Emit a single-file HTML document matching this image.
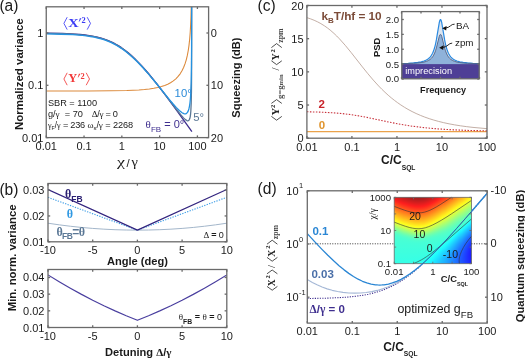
<!DOCTYPE html>
<html><head><meta charset="utf-8"><style>
html,body{margin:0;padding:0;background:#fff;overflow:hidden;}
svg{display:block;}
</style></head><body>
<div style="position:absolute;left:0;top:0;width:525px;height:358px;will-change:transform"><svg width="525" height="358" viewBox="0 0 525 358">
<rect width="525" height="358" fill="#fff"/>
<text x="-0.6" y="11" font-size="15.6" text-anchor="start" font-weight="normal" fill="#1a1a1a" font-family='"Liberation Sans",sans-serif' >(a)</text>
<clipPath id="ca"><rect x="46.25" y="6.8" width="162.35" height="130.79999999999998"/></clipPath>
<g clip-path="url(#ca)">
<path d="M46.25 91L87.86 90.95L110.61 90.81L126.8 90.49L138.88 89.93L144.41 89.49L149.36 88.94L153.77 88.28L157.75 87.49L161.38 86.55L164.73 85.44L167.74 84.19L170.5 82.74L173.31 80.9L175.84 78.81L178.11 76.44L180.15 73.79L181.99 70.79L183.59 67.51L185 63.91L186.26 59.82L187.33 55.4L188.25 50.49L189.03 45.09L189.66 39.29L190.19 32.67L190.63 25.12L190.97 16.62L191.23 6.8" fill="none" stroke="#dc8a3c" stroke-width="1.1" stroke-linejoin="round" />
<path d="M46.25 33.18L62.54 33.51L74.7 34.07L80.05 34.49L84.91 35L89.29 35.59L93.42 36.31L97.31 37.15L101.2 38.17L104.85 39.33L108.26 40.61L111.66 42.1L114.82 43.69L118.23 45.63L121.39 47.66L124.55 49.92L127.95 52.6L131.11 55.31L134.52 58.46L137.92 61.84L141.33 65.44L144.97 69.49L148.86 74.03L156.89 83.94L166.37 96.35L177.56 111.58L191.9 131.6" fill="none" stroke="#3f2f8f" stroke-width="1.3" stroke-linejoin="round" />
<path d="M46.25 33.4L61.77 33.7L73.6 34.22L83.35 35.04L87.62 35.57L91.64 36.2L95.52 36.96L99.21 37.84L102.7 38.84L106.05 39.97L109.3 41.25L112.5 42.71L115.6 44.32L118.66 46.1L121.42 47.89L124.14 49.81L126.85 51.9L129.62 54.19L135.24 59.34L141.11 65.36L147.56 72.61L154.74 81.29L162.01 90.53L176.17 108.98L181.12 115.13L183.55 117.85L185.44 119.63L186.89 120.58L187.52 120.78L188.06 120.78L188.78 120.41L189.37 119.6L189.85 118.3L190.24 116.54L190.58 114.04L190.82 111.29L191.21 103.12L191.45 91.25L191.6 73.3L191.68 6.8" fill="none" stroke="#5b7896" stroke-width="1.3" stroke-linejoin="round" />
<path d="M46.25 33.95L61.24 34.23L72.78 34.72L82.28 35.47L86.5 35.96L90.43 36.53L94.26 37.23L97.85 38.03L101.25 38.93L104.54 39.97L107.7 41.12L110.8 42.44L113.81 43.88L116.77 45.49L121.71 48.59L126.66 52.23L131.65 56.44L136.79 61.3L142.71 67.47L149.21 74.83L155.81 82.74L170.06 100.33L173.41 104.29L176.17 107.38L179.28 110.51L181.8 112.56L182.87 113.21L183.84 113.63L184.71 113.83L185.53 113.8L186.07 113.64L186.55 113.36L187.47 112.38L188.25 110.9L188.88 108.98L189.46 106.32L189.95 103.04L190.34 99.24L190.68 94.45L191.16 82.41L191.45 66.25L191.6 46.61L191.66 6.8" fill="none" stroke="#2592e0" stroke-width="1.3" stroke-linejoin="round" />
</g>
<rect x="46.25" y="6.8" width="162.35" height="130.8" fill="none" stroke="#6a6a6a" stroke-width="1.3"/>
<line x1="46.25" y1="137.6" x2="46.25" y2="135.4" stroke="#6a6a6a" stroke-width="1.3" />
<line x1="46.25" y1="6.8" x2="46.25" y2="9" stroke="#6a6a6a" stroke-width="1.3" />
<line x1="84.04" y1="137.6" x2="84.04" y2="135.4" stroke="#6a6a6a" stroke-width="1.3" />
<line x1="84.04" y1="6.8" x2="84.04" y2="9" stroke="#6a6a6a" stroke-width="1.3" />
<line x1="121.83" y1="137.6" x2="121.83" y2="135.4" stroke="#6a6a6a" stroke-width="1.3" />
<line x1="121.83" y1="6.8" x2="121.83" y2="9" stroke="#6a6a6a" stroke-width="1.3" />
<line x1="159.62" y1="137.6" x2="159.62" y2="135.4" stroke="#6a6a6a" stroke-width="1.3" />
<line x1="159.62" y1="6.8" x2="159.62" y2="9" stroke="#6a6a6a" stroke-width="1.3" />
<line x1="197.41" y1="137.6" x2="197.41" y2="135.4" stroke="#6a6a6a" stroke-width="1.3" />
<line x1="197.41" y1="6.8" x2="197.41" y2="9" stroke="#6a6a6a" stroke-width="1.3" />
<line x1="46.25" y1="137.6" x2="48.45" y2="137.6" stroke="#6a6a6a" stroke-width="1.3" />
<line x1="208.6" y1="137.6" x2="206.4" y2="137.6" stroke="#6a6a6a" stroke-width="1.3" />
<line x1="46.25" y1="85.3" x2="48.45" y2="85.3" stroke="#6a6a6a" stroke-width="1.3" />
<line x1="208.6" y1="85.3" x2="206.4" y2="85.3" stroke="#6a6a6a" stroke-width="1.3" />
<line x1="46.25" y1="33" x2="48.45" y2="33" stroke="#6a6a6a" stroke-width="1.3" />
<line x1="208.6" y1="33" x2="206.4" y2="33" stroke="#6a6a6a" stroke-width="1.3" />
<text x="46.25" y="150.2" font-size="11" text-anchor="middle" font-weight="normal" fill="#1a1a1a" font-family='"Liberation Sans",sans-serif' >0.01</text>
<text x="84.04" y="150.2" font-size="11" text-anchor="middle" font-weight="normal" fill="#1a1a1a" font-family='"Liberation Sans",sans-serif' >0.1</text>
<text x="121.83" y="150.2" font-size="11" text-anchor="middle" font-weight="normal" fill="#1a1a1a" font-family='"Liberation Sans",sans-serif' >1</text>
<text x="159.62" y="150.2" font-size="11" text-anchor="middle" font-weight="normal" fill="#1a1a1a" font-family='"Liberation Sans",sans-serif' >10</text>
<text x="197.41" y="150.2" font-size="11" text-anchor="middle" font-weight="normal" fill="#1a1a1a" font-family='"Liberation Sans",sans-serif' >100</text>
<text x="43.4" y="141.6" font-size="11" text-anchor="end" font-weight="normal" fill="#1a1a1a" font-family='"Liberation Sans",sans-serif' >0.01</text>
<text x="43.4" y="89.3" font-size="11" text-anchor="end" font-weight="normal" fill="#1a1a1a" font-family='"Liberation Sans",sans-serif' >0.1</text>
<text x="43.4" y="37" font-size="11" text-anchor="end" font-weight="normal" fill="#1a1a1a" font-family='"Liberation Sans",sans-serif' >1</text>
<text x="210.8" y="141.6" font-size="11" text-anchor="start" font-weight="normal" fill="#1a1a1a" font-family='"Liberation Sans",sans-serif' >20</text>
<text x="210.8" y="89.3" font-size="11" text-anchor="start" font-weight="normal" fill="#1a1a1a" font-family='"Liberation Sans",sans-serif' >10</text>
<text x="210.8" y="37" font-size="11" text-anchor="start" font-weight="normal" fill="#1a1a1a" font-family='"Liberation Sans",sans-serif' >0</text>
<text transform="translate(22.6 74.2) rotate(-90)" font-size="11.5" text-anchor="middle" font-weight="bold" fill="#1a1a1a" font-family='"Liberation Sans",sans-serif'>Normalized variance</text>
<text transform="translate(240 77.6) rotate(-90)" font-size="11" text-anchor="middle" font-weight="bold" fill="#1a1a1a" font-family='"Liberation Sans",sans-serif'>Squeezing (dB)</text>
<text x="116.9" y="166.2" font-size="13.5" text-anchor="start" font-weight="normal" fill="#1a1a1a" font-family='"Liberation Serif",serif' textLength="8" lengthAdjust="spacingAndGlyphs">χ</text>
<text x="126.6" y="167.2" font-size="11.5" text-anchor="start" font-weight="normal" fill="#1a1a1a" font-family='"Liberation Sans",sans-serif' >/</text>
<text x="131.6" y="166.2" font-size="13.5" text-anchor="start" font-weight="normal" fill="#1a1a1a" font-family='"Liberation Serif",serif' textLength="6.4" lengthAdjust="spacingAndGlyphs">γ</text>
<path d="M67.2 17.2L63.9 23.4L67.2 29.6" fill="none" stroke="#3b3bf5" stroke-width="0.85" stroke-linejoin="miter" stroke-linecap="butt"/>
<text x="68.3" y="26.8" font-size="12" font-weight="bold" fill="#3b3bf5" font-family='"Liberation Serif",serif' textLength="10.4" lengthAdjust="spacingAndGlyphs">X</text>
<path d="M79.9 18.2L81.5 18.2L79.2 21.8L78.7 21.8Z" fill="#3b3bf5"/>
<text x="81.5" y="23.2" font-size="8.4" text-anchor="start" font-weight="bold" fill="#3b3bf5" font-family='"Liberation Serif",serif' >2</text>
<path d="M87.2 17.2L90.5 23.4L87.2 29.6" fill="none" stroke="#3b3bf5" stroke-width="0.85" stroke-linejoin="miter" stroke-linecap="butt"/>
<path d="M67.2 72.8L63.9 79L67.2 85.2" fill="none" stroke="#f23a3a" stroke-width="0.85" stroke-linejoin="miter" stroke-linecap="butt"/>
<text x="68.3" y="82.4" font-size="12" font-weight="bold" fill="#f23a3a" font-family='"Liberation Serif",serif' textLength="9.0" lengthAdjust="spacingAndGlyphs">Y</text>
<path d="M78.9 73.8L80.5 73.8L78.2 77.4L77.7 77.4Z" fill="#f23a3a"/>
<text x="80.5" y="78.8" font-size="8.4" text-anchor="start" font-weight="bold" fill="#f23a3a" font-family='"Liberation Serif",serif' >2</text>
<path d="M86.2 72.8L89.5 79L86.2 85.2" fill="none" stroke="#f23a3a" stroke-width="0.85" stroke-linejoin="miter" stroke-linecap="butt"/>
<text x="47.9" y="105.6" font-size="9.2" text-anchor="start" font-weight="normal" fill="#1a1a1a" font-family='"Liberation Sans",sans-serif' >SBR = 1100</text>
<text x="47.9" y="116.7" font-size="9.2" text-anchor="start" font-weight="normal" fill="#1a1a1a" font-family='"Liberation Sans",sans-serif' >g/<tspan font-family='"Liberation Serif",serif'>γ</tspan>&#160; = 70</text>
<text x="91.7" y="116.7" font-size="9.2" text-anchor="start" font-weight="normal" fill="#1a1a1a" font-family='"Liberation Sans",sans-serif' textLength="26.2"><tspan font-family='"Liberation Serif",serif'>Δ</tspan>/<tspan font-family='"Liberation Serif",serif'>γ</tspan> = 0</text>
<text x="47.9" y="127.7" font-size="9.2" text-anchor="start" font-weight="normal" fill="#1a1a1a" font-family='"Liberation Sans",sans-serif' textLength="12.6" lengthAdjust="spacingAndGlyphs"><tspan font-family='"Liberation Serif",serif'>γ</tspan><tspan font-size="6" dy="2">F</tspan><tspan dy="-2">/</tspan><tspan font-family='"Liberation Serif",serif'>γ</tspan></text>
<text x="62.9" y="127.7" font-size="9.2" text-anchor="start" font-weight="normal" fill="#1a1a1a" font-family='"Liberation Sans",sans-serif' textLength="22.3">= 236</text>
<text x="87.6" y="127.7" font-size="9.2" text-anchor="start" font-weight="normal" fill="#1a1a1a" font-family='"Liberation Sans",sans-serif' textLength="45.4"><tspan font-family='"Liberation Serif",serif'>ω</tspan><tspan font-size="6" dy="2">s</tspan><tspan dy="-2">/</tspan><tspan font-family='"Liberation Serif",serif'>γ</tspan> = 2268</text>
<text x="145.6" y="128" font-size="11" text-anchor="start" font-weight="normal" fill="#3f2f8f" font-family='"Liberation Sans",sans-serif' ><tspan font-family='"Liberation Serif",serif'>θ</tspan><tspan font-size="8" dy="4.4">FB</tspan><tspan dy="-4.4"> = 0°</tspan></text>
<text x="174.6" y="97" font-size="11.3" text-anchor="start" font-weight="normal" fill="#2a8ad8" font-family='"Liberation Sans",sans-serif' >10°</text>
<text x="193.2" y="121.1" font-size="11.3" text-anchor="start" font-weight="normal" fill="#5b7896" font-family='"Liberation Sans",sans-serif' >5°</text>
<text x="-0.6" y="194.6" font-size="15.6" text-anchor="start" font-weight="normal" fill="#1a1a1a" font-family='"Liberation Sans",sans-serif' >(b)</text>
<clipPath id="cb1"><rect x="48.0" y="183.5" width="178.8" height="58.30000000000001"/></clipPath>
<g clip-path="url(#cb1)">
<path d="M48 223.21L59.18 224.84L70.35 226.24L81.53 227.44L92.7 228.41L103.88 229.17L115.05 229.71L126.23 230.03L137.4 230.14L148.58 230.03L159.75 229.71L170.93 229.17L182.1 228.41L193.28 227.44L204.45 226.24L215.62 224.84L226.8 223.21" fill="none" stroke="#a3b6ca" stroke-width="1.0" stroke-linejoin="round" />
<path d="M48 197.31L137.4 230.14L226.8 197.31" fill="none" stroke="#3d9de6" stroke-width="1.1" stroke-linejoin="round" stroke-dasharray="1.3 1.3"/>
<path d="M48 189.48L137.4 230.14L226.8 189.48" fill="none" stroke="#33257f" stroke-width="1.2" stroke-linejoin="round" />
</g>
<rect x="48" y="183.5" width="178.8" height="58.3" fill="none" stroke="#6a6a6a" stroke-width="1.3"/>
<line x1="48" y1="241.8" x2="48" y2="239.6" stroke="#6a6a6a" stroke-width="1.3" />
<line x1="48" y1="183.5" x2="48" y2="185.7" stroke="#6a6a6a" stroke-width="1.3" />
<text x="48" y="254.2" font-size="11" text-anchor="middle" font-weight="normal" fill="#1a1a1a" font-family='"Liberation Sans",sans-serif' >-10</text>
<line x1="92.7" y1="241.8" x2="92.7" y2="239.6" stroke="#6a6a6a" stroke-width="1.3" />
<line x1="92.7" y1="183.5" x2="92.7" y2="185.7" stroke="#6a6a6a" stroke-width="1.3" />
<text x="92.7" y="254.2" font-size="11" text-anchor="middle" font-weight="normal" fill="#1a1a1a" font-family='"Liberation Sans",sans-serif' >-5</text>
<line x1="137.4" y1="241.8" x2="137.4" y2="239.6" stroke="#6a6a6a" stroke-width="1.3" />
<line x1="137.4" y1="183.5" x2="137.4" y2="185.7" stroke="#6a6a6a" stroke-width="1.3" />
<text x="137.4" y="254.2" font-size="11" text-anchor="middle" font-weight="normal" fill="#1a1a1a" font-family='"Liberation Sans",sans-serif' >0</text>
<line x1="182.1" y1="241.8" x2="182.1" y2="239.6" stroke="#6a6a6a" stroke-width="1.3" />
<line x1="182.1" y1="183.5" x2="182.1" y2="185.7" stroke="#6a6a6a" stroke-width="1.3" />
<text x="182.1" y="254.2" font-size="11" text-anchor="middle" font-weight="normal" fill="#1a1a1a" font-family='"Liberation Sans",sans-serif' >5</text>
<line x1="226.8" y1="241.8" x2="226.8" y2="239.6" stroke="#6a6a6a" stroke-width="1.3" />
<line x1="226.8" y1="183.5" x2="226.8" y2="185.7" stroke="#6a6a6a" stroke-width="1.3" />
<text x="226.8" y="254.2" font-size="11" text-anchor="middle" font-weight="normal" fill="#1a1a1a" font-family='"Liberation Sans",sans-serif' >10</text>
<line x1="48" y1="241.8" x2="50.2" y2="241.8" stroke="#6a6a6a" stroke-width="1.3" />
<line x1="226.8" y1="241.8" x2="224.6" y2="241.8" stroke="#6a6a6a" stroke-width="1.3" />
<text x="44.5" y="245.8" font-size="11" text-anchor="end" font-weight="normal" fill="#1a1a1a" font-family='"Liberation Sans",sans-serif' >0.01</text>
<line x1="48" y1="215.95" x2="50.2" y2="215.95" stroke="#6a6a6a" stroke-width="1.3" />
<line x1="226.8" y1="215.95" x2="224.6" y2="215.95" stroke="#6a6a6a" stroke-width="1.3" />
<text x="44.5" y="219.95" font-size="11" text-anchor="end" font-weight="normal" fill="#1a1a1a" font-family='"Liberation Sans",sans-serif' >0.02</text>
<line x1="48" y1="190.1" x2="50.2" y2="190.1" stroke="#6a6a6a" stroke-width="1.3" />
<line x1="226.8" y1="190.1" x2="224.6" y2="190.1" stroke="#6a6a6a" stroke-width="1.3" />
<text x="44.5" y="194.1" font-size="11" text-anchor="end" font-weight="normal" fill="#1a1a1a" font-family='"Liberation Sans",sans-serif' >0.03</text>
<text x="137.4" y="265.2" font-size="11.1" text-anchor="middle" font-weight="bold" fill="#1a1a1a" font-family='"Liberation Sans",sans-serif' >Angle (deg)</text>
<text x="65.1" y="198.2" font-size="12" text-anchor="start" font-weight="bold" fill="#2b2072" font-family='"Liberation Sans",sans-serif' ><tspan font-family='"Liberation Serif",serif'>θ</tspan><tspan font-size="8.5" dy="3.3">FB</tspan></text>
<text x="66.8" y="217.6" font-size="12" text-anchor="start" font-weight="bold" fill="#2f98e2" font-family='"Liberation Serif",serif' >θ</text>
<text x="56.4" y="235.6" font-size="12" text-anchor="start" font-weight="bold" fill="#5b7896" font-family='"Liberation Sans",sans-serif' textLength="28.6"><tspan font-family='"Liberation Serif",serif'>θ</tspan><tspan font-size="8.5" dy="3.5">FB</tspan><tspan dy="-3.5">=</tspan><tspan font-family='"Liberation Serif",serif'>θ</tspan></text>
<text x="203.4" y="237.8" font-size="9" text-anchor="start" font-weight="normal" fill="#1a1a1a" font-family='"Liberation Sans",sans-serif' textLength="20.4"><tspan font-family='"Liberation Serif",serif'>Δ</tspan><tspan font-weight="bold"> = </tspan>0</text>
<clipPath id="cb2"><rect x="48.0" y="269.5" width="178.8" height="58.0"/></clipPath>
<g clip-path="url(#cb2)">
<path d="M48 274.92L59.18 281.73L70.35 288.21L81.53 294.37L92.7 300.2L103.88 305.71L115.05 310.9L126.23 315.76L137.4 320.3L148.58 315.76L159.75 310.9L170.93 305.71L182.1 300.2L193.28 294.37L204.45 288.21L215.62 281.73L226.8 274.92" fill="none" stroke="#4a3f9f" stroke-width="1.2" stroke-linejoin="round" />
</g>
<rect x="48" y="269.5" width="178.8" height="58" fill="none" stroke="#6a6a6a" stroke-width="1.3"/>
<line x1="48" y1="327.5" x2="48" y2="325.3" stroke="#6a6a6a" stroke-width="1.3" />
<line x1="48" y1="269.5" x2="48" y2="271.7" stroke="#6a6a6a" stroke-width="1.3" />
<text x="48" y="340.2" font-size="11" text-anchor="middle" font-weight="normal" fill="#1a1a1a" font-family='"Liberation Sans",sans-serif' >-10</text>
<line x1="92.7" y1="327.5" x2="92.7" y2="325.3" stroke="#6a6a6a" stroke-width="1.3" />
<line x1="92.7" y1="269.5" x2="92.7" y2="271.7" stroke="#6a6a6a" stroke-width="1.3" />
<text x="92.7" y="340.2" font-size="11" text-anchor="middle" font-weight="normal" fill="#1a1a1a" font-family='"Liberation Sans",sans-serif' >-5</text>
<line x1="137.4" y1="327.5" x2="137.4" y2="325.3" stroke="#6a6a6a" stroke-width="1.3" />
<line x1="137.4" y1="269.5" x2="137.4" y2="271.7" stroke="#6a6a6a" stroke-width="1.3" />
<text x="137.4" y="340.2" font-size="11" text-anchor="middle" font-weight="normal" fill="#1a1a1a" font-family='"Liberation Sans",sans-serif' >0</text>
<line x1="182.1" y1="327.5" x2="182.1" y2="325.3" stroke="#6a6a6a" stroke-width="1.3" />
<line x1="182.1" y1="269.5" x2="182.1" y2="271.7" stroke="#6a6a6a" stroke-width="1.3" />
<text x="182.1" y="340.2" font-size="11" text-anchor="middle" font-weight="normal" fill="#1a1a1a" font-family='"Liberation Sans",sans-serif' >5</text>
<line x1="226.8" y1="327.5" x2="226.8" y2="325.3" stroke="#6a6a6a" stroke-width="1.3" />
<line x1="226.8" y1="269.5" x2="226.8" y2="271.7" stroke="#6a6a6a" stroke-width="1.3" />
<text x="226.8" y="340.2" font-size="11" text-anchor="middle" font-weight="normal" fill="#1a1a1a" font-family='"Liberation Sans",sans-serif' >10</text>
<line x1="48" y1="327.5" x2="50.2" y2="327.5" stroke="#6a6a6a" stroke-width="1.3" />
<line x1="226.8" y1="327.5" x2="224.6" y2="327.5" stroke="#6a6a6a" stroke-width="1.3" />
<text x="44.5" y="331.5" font-size="11" text-anchor="end" font-weight="normal" fill="#1a1a1a" font-family='"Liberation Sans",sans-serif' >0.01</text>
<line x1="48" y1="310.83" x2="50.2" y2="310.83" stroke="#6a6a6a" stroke-width="1.3" />
<line x1="226.8" y1="310.83" x2="224.6" y2="310.83" stroke="#6a6a6a" stroke-width="1.3" />
<text x="44.5" y="314.83" font-size="11" text-anchor="end" font-weight="normal" fill="#1a1a1a" font-family='"Liberation Sans",sans-serif' >0.02</text>
<line x1="48" y1="294.16" x2="50.2" y2="294.16" stroke="#6a6a6a" stroke-width="1.3" />
<line x1="226.8" y1="294.16" x2="224.6" y2="294.16" stroke="#6a6a6a" stroke-width="1.3" />
<text x="44.5" y="298.16" font-size="11" text-anchor="end" font-weight="normal" fill="#1a1a1a" font-family='"Liberation Sans",sans-serif' >0.03</text>
<line x1="48" y1="277.49" x2="50.2" y2="277.49" stroke="#6a6a6a" stroke-width="1.3" />
<line x1="226.8" y1="277.49" x2="224.6" y2="277.49" stroke="#6a6a6a" stroke-width="1.3" />
<text x="44.5" y="281.49" font-size="11" text-anchor="end" font-weight="normal" fill="#1a1a1a" font-family='"Liberation Sans",sans-serif' >0.04</text>
<text x="138.3" y="356.2" font-size="11.1" text-anchor="middle" font-weight="bold" fill="#1a1a1a" font-family='"Liberation Sans",sans-serif' >Detuning <tspan font-family='"Liberation Serif",serif'>Δ</tspan>/<tspan font-family='"Liberation Serif",serif'>γ</tspan></text>
<text x="178.7" y="320.1" font-size="9" text-anchor="start" font-weight="normal" fill="#1a1a1a" font-family='"Liberation Sans",sans-serif' textLength="43.4"><tspan font-family='"Liberation Serif",serif'>θ</tspan><tspan font-size="6.8" font-weight="bold" dy="3.4">FB</tspan><tspan dy="-3.4" font-weight="bold"> = </tspan><tspan font-family='"Liberation Serif",serif'>θ</tspan><tspan font-weight="bold"> = </tspan>0</text>
<text transform="translate(16.2 257.8) rotate(-90)" font-size="11.4" text-anchor="middle" font-weight="bold" fill="#1a1a1a" font-family='"Liberation Sans",sans-serif'>Min. norm. variance</text>
<text x="257.6" y="11.3" font-size="15.6" text-anchor="start" font-weight="normal" fill="#1a1a1a" font-family='"Liberation Sans",sans-serif' >(c)</text>
<clipPath id="cc"><rect x="306.9" y="5.5" width="180.10000000000002" height="132.7"/></clipPath>
<g clip-path="url(#cc)">
<path d="M306.9 131.56L487 131.56" fill="none" stroke="#eba24a" stroke-width="1.2" stroke-linejoin="round" />
<path d="M306.9 111.77L319.99 112.12L331.27 112.68L341.2 113.48L350.23 114.53L357.45 115.62L365.13 117.01L389.95 122.27L400.79 124.36L412.52 126.23L424.26 127.67L436.9 128.82L451.34 129.73L467.59 130.41L487 130.9" fill="none" stroke="#c8323c" stroke-width="1.1" stroke-linejoin="round" stroke-dasharray="1.5 1.5"/>
<path d="M306.9 17.66L310.51 18.84L314.12 20.25L317.73 21.93L320.89 23.63L324.5 25.88L327.66 28.12L330.82 30.63L333.98 33.41L336.69 36L339.4 38.78L345.27 45.36L351.14 52.52L362.42 66.92L367.84 73.66L373.25 80.06L378.67 86L381.83 89.24L384.99 92.29L388.15 95.17L391.31 97.86L394.47 100.38L397.63 102.73L400.79 104.92L404.4 107.24L408.01 109.36L412.07 111.54L416.13 113.51L420.65 115.48L424.71 117.07L429.22 118.66L433.74 120.07L438.7 121.45L443.67 122.67L449.08 123.83L454.5 124.84L460.37 125.79L466.69 126.66L473.01 127.4L487 128.66" fill="none" stroke="#b8a096" stroke-width="0.85" stroke-linejoin="round" />
</g>
<rect x="306.9" y="5.5" width="180.1" height="132.7" fill="none" stroke="#6a6a6a" stroke-width="1.3"/>
<line x1="306.9" y1="138.2" x2="306.9" y2="136" stroke="#6a6a6a" stroke-width="1.3" />
<line x1="306.9" y1="5.5" x2="306.9" y2="7.7" stroke="#6a6a6a" stroke-width="1.3" />
<text x="306.9" y="150.6" font-size="11" text-anchor="middle" font-weight="normal" fill="#1a1a1a" font-family='"Liberation Sans",sans-serif' >0.01</text>
<line x1="351.92" y1="138.2" x2="351.92" y2="136" stroke="#6a6a6a" stroke-width="1.3" />
<line x1="351.92" y1="5.5" x2="351.92" y2="7.7" stroke="#6a6a6a" stroke-width="1.3" />
<text x="351.92" y="150.6" font-size="11" text-anchor="middle" font-weight="normal" fill="#1a1a1a" font-family='"Liberation Sans",sans-serif' >0.1</text>
<line x1="396.95" y1="138.2" x2="396.95" y2="136" stroke="#6a6a6a" stroke-width="1.3" />
<line x1="396.95" y1="5.5" x2="396.95" y2="7.7" stroke="#6a6a6a" stroke-width="1.3" />
<text x="396.95" y="150.6" font-size="11" text-anchor="middle" font-weight="normal" fill="#1a1a1a" font-family='"Liberation Sans",sans-serif' >1</text>
<line x1="441.97" y1="138.2" x2="441.97" y2="136" stroke="#6a6a6a" stroke-width="1.3" />
<line x1="441.97" y1="5.5" x2="441.97" y2="7.7" stroke="#6a6a6a" stroke-width="1.3" />
<text x="441.97" y="150.6" font-size="11" text-anchor="middle" font-weight="normal" fill="#1a1a1a" font-family='"Liberation Sans",sans-serif' >10</text>
<line x1="487" y1="138.2" x2="487" y2="136" stroke="#6a6a6a" stroke-width="1.3" />
<line x1="487" y1="5.5" x2="487" y2="7.7" stroke="#6a6a6a" stroke-width="1.3" />
<text x="487" y="150.6" font-size="11" text-anchor="middle" font-weight="normal" fill="#1a1a1a" font-family='"Liberation Sans",sans-serif' >100</text>
<line x1="306.9" y1="138.2" x2="309.1" y2="138.2" stroke="#6a6a6a" stroke-width="1.3" />
<line x1="487" y1="138.2" x2="484.8" y2="138.2" stroke="#6a6a6a" stroke-width="1.3" />
<text x="303.6" y="142.2" font-size="11" text-anchor="end" font-weight="normal" fill="#1a1a1a" font-family='"Liberation Sans",sans-serif' >0</text>
<line x1="306.9" y1="105.02" x2="309.1" y2="105.02" stroke="#6a6a6a" stroke-width="1.3" />
<line x1="487" y1="105.02" x2="484.8" y2="105.02" stroke="#6a6a6a" stroke-width="1.3" />
<text x="303.6" y="109.02" font-size="11" text-anchor="end" font-weight="normal" fill="#1a1a1a" font-family='"Liberation Sans",sans-serif' >5</text>
<line x1="306.9" y1="71.85" x2="309.1" y2="71.85" stroke="#6a6a6a" stroke-width="1.3" />
<line x1="487" y1="71.85" x2="484.8" y2="71.85" stroke="#6a6a6a" stroke-width="1.3" />
<text x="303.6" y="75.85" font-size="11" text-anchor="end" font-weight="normal" fill="#1a1a1a" font-family='"Liberation Sans",sans-serif' >10</text>
<line x1="306.9" y1="38.67" x2="309.1" y2="38.67" stroke="#6a6a6a" stroke-width="1.3" />
<line x1="487" y1="38.67" x2="484.8" y2="38.67" stroke="#6a6a6a" stroke-width="1.3" />
<text x="303.6" y="42.67" font-size="11" text-anchor="end" font-weight="normal" fill="#1a1a1a" font-family='"Liberation Sans",sans-serif' >15</text>
<line x1="306.9" y1="5.5" x2="309.1" y2="5.5" stroke="#6a6a6a" stroke-width="1.3" />
<line x1="487" y1="5.5" x2="484.8" y2="5.5" stroke="#6a6a6a" stroke-width="1.3" />
<text x="303.6" y="9.5" font-size="11" text-anchor="end" font-weight="normal" fill="#1a1a1a" font-family='"Liberation Sans",sans-serif' >20</text>
<text x="381" y="163.9" font-size="12" text-anchor="start" font-weight="bold" fill="#1a1a1a" font-family='"Liberation Sans",sans-serif' >C/C<tspan font-size="6.7" dy="5.6">SQL</tspan></text>
<text x="321.6" y="20.1" font-size="11.8" text-anchor="start" font-weight="bold" fill="#7b4b38" font-family='"Liberation Sans",sans-serif' textLength="60">k<tspan font-size="8" dy="3">B</tspan><tspan dy="-3">T/hf = 10</tspan></text>
<text x="318.6" y="108.2" font-size="11.5" text-anchor="start" font-weight="bold" fill="#c8232a" font-family='"Liberation Sans",sans-serif' >2</text>
<text x="318.8" y="128.6" font-size="11.5" text-anchor="start" font-weight="bold" fill="#e0952e" font-family='"Liberation Sans",sans-serif' >0</text>
<g transform="translate(279.2 121) rotate(-90)">
<path d="M4.6 -7.8L0.8 -2.6L4.6 2.6" fill="none" stroke="#222" stroke-width="0.8" stroke-linejoin="miter" stroke-linecap="butt"/>
<text x="5.6" y="0" font-size="10.5" text-anchor="start" font-weight="bold" fill="#222" font-family='"Liberation Serif",serif' textLength="7.6" lengthAdjust="spacingAndGlyphs">Y</text>
<text x="13" y="-4.4" font-size="6.5" text-anchor="start" font-weight="bold" fill="#222" font-family='"Liberation Serif",serif' >2</text>
<path d="M17.6 -7.8L21.4 -2.6L17.6 2.6" fill="none" stroke="#222" stroke-width="0.8" stroke-linejoin="miter" stroke-linecap="butt"/>
<text x="22" y="3.6" font-size="8.5" text-anchor="start" font-weight="bold" fill="#555" font-family='"Liberation Serif",serif' textLength="24.6" lengthAdjust="spacingAndGlyphs">g=g<tspan font-size="6.5">min</tspan></text>
<text x="50.4" y="0" font-size="10.5" text-anchor="start" font-weight="normal" fill="#222" font-family='"Liberation Serif",serif' >/</text>
<path d="M60.2 -7.8L56.4 -2.6L60.2 2.6" fill="none" stroke="#222" stroke-width="0.8" stroke-linejoin="miter" stroke-linecap="butt"/>
<text x="60.6" y="0" font-size="10.5" text-anchor="start" font-weight="bold" fill="#222" font-family='"Liberation Serif",serif' textLength="7.2" lengthAdjust="spacingAndGlyphs">Y</text>
<text x="68.6" y="-4.4" font-size="6.5" text-anchor="start" font-weight="bold" fill="#222" font-family='"Liberation Serif",serif' >2</text>
<path d="M73.4 -7.8L77.4 -2.6L73.4 2.6" fill="none" stroke="#222" stroke-width="0.8" stroke-linejoin="miter" stroke-linecap="butt"/>
<text x="78.2" y="3.6" font-size="7.9" text-anchor="start" font-weight="bold" fill="#444" font-family='"Liberation Serif",serif' textLength="14.4" lengthAdjust="spacingAndGlyphs">zpm</text>
</g>
<rect x="401.8" y="11.6" width="77.39999999999998" height="67.2" fill="#fff"/>
<path d="M401.5 63.54L408.23 63.27L413.49 62.92L417.78 62.44L421.19 61.83L424.02 61.03L426.36 60.02L428.41 58.69L430.07 57.12L431.43 55.31L432.6 53.19L433.68 50.6L434.65 47.54L435.53 44.03L436.4 39.71L439.23 22.78L439.92 20.24L440.21 19.69L440.5 19.5L440.79 19.69L441.08 20.24L441.77 22.78L444.6 39.71L445.47 44.03L446.35 47.54L447.32 50.6L448.4 53.19L449.57 55.31L450.93 57.12L452.59 58.69L454.64 60.02L456.98 61.03L459.81 61.83L463.22 62.44L467.51 62.92L472.77 63.27L479.5 63.54L479.2 78.8L401.8 78.8Z" fill="#dde5ef" stroke="none"/>
<path d="M401.5 63.73L413.49 63.32L417.78 63L421.19 62.59L424.02 62.06L426.36 61.39L428.41 60.5L430.07 59.46L431.43 58.25L432.6 56.83L433.68 55.11L434.65 53.07L435.53 50.73L436.4 47.85L439.23 36.56L439.92 34.87L440.21 34.5L440.5 34.38L440.79 34.5L441.08 34.87L441.77 36.56L444.6 47.85L445.47 50.73L446.35 53.07L447.32 55.11L448.4 56.83L449.57 58.25L450.93 59.46L452.59 60.5L454.64 61.39L456.98 62.06L459.81 62.59L463.22 63L467.51 63.32L479.5 63.73L479.2 78.8L401.8 78.8Z" fill="#8fb2da" stroke="none"/>
<path d="M401.5 63.54L408.23 63.27L413.49 62.92L417.78 62.44L421.19 61.83L424.02 61.03L426.36 60.02L428.41 58.69L430.07 57.12L431.43 55.31L432.6 53.19L433.68 50.6L434.65 47.54L435.53 44.03L436.4 39.71L439.23 22.78L439.92 20.24L440.21 19.69L440.5 19.5L440.79 19.69L441.08 20.24L441.77 22.78L444.6 39.71L445.47 44.03L446.35 47.54L447.32 50.6L448.4 53.19L449.57 55.31L450.93 57.12L452.59 58.69L454.64 60.02L456.98 61.03L459.81 61.83L463.22 62.44L467.51 62.92L472.77 63.27L479.5 63.54" fill="none" stroke="#2b8ae0" stroke-width="1.2" stroke-linejoin="round" />
<path d="M401.5 63.73L413.49 63.32L417.78 63L421.19 62.59L424.02 62.06L426.36 61.39L428.41 60.5L430.07 59.46L431.43 58.25L432.6 56.83L433.68 55.11L434.65 53.07L435.53 50.73L436.4 47.85L439.23 36.56L439.92 34.87L440.21 34.5L440.5 34.38L440.79 34.5L441.08 34.87L441.77 36.56L444.6 47.85L445.47 50.73L446.35 53.07L447.32 55.11L448.4 56.83L449.57 58.25L450.93 59.46L452.59 60.5L454.64 61.39L456.98 62.06L459.81 62.59L463.22 63L467.51 63.32L479.5 63.73" fill="none" stroke="#4f6186" stroke-width="0.9" stroke-linejoin="round" />
<rect x="401.8" y="64.12" width="77.39999999999998" height="14.67" fill="#4e3f96"/>
<text x="405.2" y="74.2" font-size="9.2" text-anchor="start" font-weight="normal" fill="#ffffff" font-family='"Liberation Sans",sans-serif' textLength="46.8">imprecision</text>
<rect x="401.8" y="11.6" width="77.4" height="67.2" fill="none" stroke="#6a6a6a" stroke-width="1.3"/>
<line x1="401.5" y1="78.8" x2="401.5" y2="76.8" stroke="#6a6a6a" stroke-width="1.3" />
<line x1="401.5" y1="11.6" x2="401.5" y2="13.6" stroke="#6a6a6a" stroke-width="1.3" />
<line x1="421" y1="78.8" x2="421" y2="76.8" stroke="#6a6a6a" stroke-width="1.3" />
<line x1="421" y1="11.6" x2="421" y2="13.6" stroke="#6a6a6a" stroke-width="1.3" />
<line x1="440.5" y1="78.8" x2="440.5" y2="76.8" stroke="#6a6a6a" stroke-width="1.3" />
<line x1="440.5" y1="11.6" x2="440.5" y2="13.6" stroke="#6a6a6a" stroke-width="1.3" />
<line x1="460" y1="78.8" x2="460" y2="76.8" stroke="#6a6a6a" stroke-width="1.3" />
<line x1="460" y1="11.6" x2="460" y2="13.6" stroke="#6a6a6a" stroke-width="1.3" />
<line x1="479.5" y1="78.8" x2="479.5" y2="76.8" stroke="#6a6a6a" stroke-width="1.3" />
<line x1="479.5" y1="11.6" x2="479.5" y2="13.6" stroke="#6a6a6a" stroke-width="1.3" />
<line x1="401.8" y1="79" x2="403.8" y2="79" stroke="#6a6a6a" stroke-width="1.3" />
<line x1="479.2" y1="79" x2="477.2" y2="79" stroke="#6a6a6a" stroke-width="1.3" />
<text x="399" y="82.4" font-size="9.6" text-anchor="end" font-weight="normal" fill="#1a1a1a" font-family='"Liberation Sans",sans-serif' >0.0</text>
<line x1="401.8" y1="64.12" x2="403.8" y2="64.12" stroke="#6a6a6a" stroke-width="1.3" />
<line x1="479.2" y1="64.12" x2="477.2" y2="64.12" stroke="#6a6a6a" stroke-width="1.3" />
<text x="399" y="67.53" font-size="9.6" text-anchor="end" font-weight="normal" fill="#1a1a1a" font-family='"Liberation Sans",sans-serif' >0.5</text>
<line x1="401.8" y1="49.25" x2="403.8" y2="49.25" stroke="#6a6a6a" stroke-width="1.3" />
<line x1="479.2" y1="49.25" x2="477.2" y2="49.25" stroke="#6a6a6a" stroke-width="1.3" />
<text x="399" y="52.65" font-size="9.6" text-anchor="end" font-weight="normal" fill="#1a1a1a" font-family='"Liberation Sans",sans-serif' >1.0</text>
<line x1="401.8" y1="34.38" x2="403.8" y2="34.38" stroke="#6a6a6a" stroke-width="1.3" />
<line x1="479.2" y1="34.38" x2="477.2" y2="34.38" stroke="#6a6a6a" stroke-width="1.3" />
<text x="399" y="37.77" font-size="9.6" text-anchor="end" font-weight="normal" fill="#1a1a1a" font-family='"Liberation Sans",sans-serif' >1.5</text>
<line x1="401.8" y1="19.5" x2="403.8" y2="19.5" stroke="#6a6a6a" stroke-width="1.3" />
<line x1="479.2" y1="19.5" x2="477.2" y2="19.5" stroke="#6a6a6a" stroke-width="1.3" />
<text x="399" y="22.9" font-size="9.6" text-anchor="end" font-weight="normal" fill="#1a1a1a" font-family='"Liberation Sans",sans-serif' >2.0</text>
<text transform="translate(380.1 47.4) rotate(-90)" font-size="9.4" text-anchor="middle" font-weight="bold" fill="#1a1a1a" font-family='"Liberation Sans",sans-serif'>PSD</text>
<text x="443.1" y="92.6" font-size="9.1" text-anchor="middle" font-weight="bold" fill="#1a1a1a" font-family='"Liberation Sans",sans-serif' >Frequency</text>
<text x="456" y="28.8" font-size="9.8" text-anchor="start" font-weight="normal" fill="#1a1a1a" font-family='"Liberation Sans",sans-serif' >BA</text>
<text x="455" y="45.9" font-size="9.8" text-anchor="start" font-weight="normal" fill="#1a1a1a" font-family='"Liberation Sans",sans-serif' >zpm</text>
<path d="M454.6 24.2 C451 23.8 450.2 27.6 445.6 28.1" fill="none" stroke="#111" stroke-width="0.9"/>
<path d="M442.2 28.3 L446.6 25.9 L446.2 30.5 Z" fill="#111"/>
<path d="M452.2 43.1 C448.6 43.0 447.8 47.0 442.8 47.5" fill="none" stroke="#111" stroke-width="0.9"/>
<path d="M439.2 47.7 L443.6 45.3 L443.2 49.9 Z" fill="#111"/>
<text x="257.6" y="193.8" font-size="15.6" text-anchor="start" font-weight="normal" fill="#1a1a1a" font-family='"Liberation Sans",sans-serif' >(d)</text>
<linearGradient id="h0"><stop offset="0" stop-color="#e20000"/><stop offset="0.03" stop-color="#d60000"/><stop offset="0.06" stop-color="#cb0000"/><stop offset="0.09" stop-color="#c00000"/><stop offset="0.12" stop-color="#b60000"/><stop offset="0.16" stop-color="#ac0000"/><stop offset="0.19" stop-color="#a30000"/><stop offset="0.22" stop-color="#9b0000"/><stop offset="0.25" stop-color="#960000"/><stop offset="0.28" stop-color="#920000"/><stop offset="0.31" stop-color="#910000"/><stop offset="0.34" stop-color="#920000"/><stop offset="0.38" stop-color="#970000"/><stop offset="0.41" stop-color="#9e0000"/><stop offset="0.44" stop-color="#a80000"/><stop offset="0.47" stop-color="#b50000"/><stop offset="0.5" stop-color="#c30000"/><stop offset="0.53" stop-color="#d30000"/><stop offset="0.56" stop-color="#e40000"/><stop offset="0.59" stop-color="#f60000"/><stop offset="0.62" stop-color="#ff0a00"/><stop offset="0.66" stop-color="#ff1d00"/><stop offset="0.69" stop-color="#ff3000"/><stop offset="0.72" stop-color="#ff4400"/><stop offset="0.75" stop-color="#ff5700"/><stop offset="0.78" stop-color="#ff6b00"/><stop offset="0.81" stop-color="#ff7f00"/><stop offset="0.84" stop-color="#ff9300"/><stop offset="0.88" stop-color="#ffa700"/><stop offset="0.91" stop-color="#ffbb00"/><stop offset="0.94" stop-color="#ffcf00"/><stop offset="0.97" stop-color="#ffe300"/><stop offset="1" stop-color="#fff800"/></linearGradient>
<rect x="394.2" y="197.3" width="77.2" height="1.3" fill="url(#h0)"/>
<linearGradient id="h1"><stop offset="0" stop-color="#ee0000"/><stop offset="0.03" stop-color="#e30000"/><stop offset="0.06" stop-color="#d70000"/><stop offset="0.09" stop-color="#cc0000"/><stop offset="0.12" stop-color="#c20000"/><stop offset="0.16" stop-color="#b80000"/><stop offset="0.19" stop-color="#af0000"/><stop offset="0.22" stop-color="#a80000"/><stop offset="0.25" stop-color="#a20000"/><stop offset="0.28" stop-color="#9e0000"/><stop offset="0.31" stop-color="#9d0000"/><stop offset="0.34" stop-color="#9f0000"/><stop offset="0.38" stop-color="#a30000"/><stop offset="0.41" stop-color="#aa0000"/><stop offset="0.44" stop-color="#b50000"/><stop offset="0.47" stop-color="#c10000"/><stop offset="0.5" stop-color="#cf0000"/><stop offset="0.53" stop-color="#df0000"/><stop offset="0.56" stop-color="#f00000"/><stop offset="0.59" stop-color="#ff0300"/><stop offset="0.62" stop-color="#ff1600"/><stop offset="0.66" stop-color="#ff2900"/><stop offset="0.69" stop-color="#ff3c00"/><stop offset="0.72" stop-color="#ff5000"/><stop offset="0.75" stop-color="#ff6400"/><stop offset="0.78" stop-color="#ff7700"/><stop offset="0.81" stop-color="#ff8b00"/><stop offset="0.84" stop-color="#ff9f00"/><stop offset="0.88" stop-color="#ffb400"/><stop offset="0.91" stop-color="#ffc800"/><stop offset="0.94" stop-color="#ffdc00"/><stop offset="0.97" stop-color="#fff000"/><stop offset="1" stop-color="#f9ff05"/></linearGradient>
<rect x="394.2" y="198.3" width="77.2" height="1.3" fill="url(#h1)"/>
<linearGradient id="h2"><stop offset="0" stop-color="#fb0000"/><stop offset="0.03" stop-color="#ef0000"/><stop offset="0.06" stop-color="#e40000"/><stop offset="0.09" stop-color="#d90000"/><stop offset="0.12" stop-color="#ce0000"/><stop offset="0.16" stop-color="#c40000"/><stop offset="0.19" stop-color="#bc0000"/><stop offset="0.22" stop-color="#b40000"/><stop offset="0.25" stop-color="#ae0000"/><stop offset="0.28" stop-color="#ab0000"/><stop offset="0.31" stop-color="#a90000"/><stop offset="0.34" stop-color="#ab0000"/><stop offset="0.38" stop-color="#af0000"/><stop offset="0.41" stop-color="#b70000"/><stop offset="0.44" stop-color="#c10000"/><stop offset="0.47" stop-color="#cd0000"/><stop offset="0.5" stop-color="#dc0000"/><stop offset="0.53" stop-color="#eb0000"/><stop offset="0.56" stop-color="#fd0000"/><stop offset="0.59" stop-color="#ff1000"/><stop offset="0.62" stop-color="#ff2200"/><stop offset="0.66" stop-color="#ff3500"/><stop offset="0.69" stop-color="#ff4900"/><stop offset="0.72" stop-color="#ff5c00"/><stop offset="0.75" stop-color="#ff7000"/><stop offset="0.78" stop-color="#ff8400"/><stop offset="0.81" stop-color="#ff9800"/><stop offset="0.84" stop-color="#ffac00"/><stop offset="0.88" stop-color="#ffc000"/><stop offset="0.91" stop-color="#ffd400"/><stop offset="0.94" stop-color="#ffe800"/><stop offset="0.97" stop-color="#fffc00"/><stop offset="1" stop-color="#edff11"/></linearGradient>
<rect x="394.2" y="199.3" width="77.2" height="1.3" fill="url(#h2)"/>
<linearGradient id="h3"><stop offset="0" stop-color="#ff0800"/><stop offset="0.03" stop-color="#fb0000"/><stop offset="0.06" stop-color="#f00000"/><stop offset="0.09" stop-color="#e50000"/><stop offset="0.12" stop-color="#da0000"/><stop offset="0.16" stop-color="#d10000"/><stop offset="0.19" stop-color="#c80000"/><stop offset="0.22" stop-color="#c00000"/><stop offset="0.25" stop-color="#bb0000"/><stop offset="0.28" stop-color="#b70000"/><stop offset="0.31" stop-color="#b60000"/><stop offset="0.34" stop-color="#b70000"/><stop offset="0.38" stop-color="#bc0000"/><stop offset="0.41" stop-color="#c30000"/><stop offset="0.44" stop-color="#cd0000"/><stop offset="0.47" stop-color="#da0000"/><stop offset="0.5" stop-color="#e80000"/><stop offset="0.53" stop-color="#f80000"/><stop offset="0.56" stop-color="#ff0a00"/><stop offset="0.59" stop-color="#ff1c00"/><stop offset="0.62" stop-color="#ff2e00"/><stop offset="0.66" stop-color="#ff4100"/><stop offset="0.69" stop-color="#ff5500"/><stop offset="0.72" stop-color="#ff6800"/><stop offset="0.75" stop-color="#ff7c00"/><stop offset="0.78" stop-color="#ff9000"/><stop offset="0.81" stop-color="#ffa400"/><stop offset="0.84" stop-color="#ffb800"/><stop offset="0.88" stop-color="#ffcc00"/><stop offset="0.91" stop-color="#ffe000"/><stop offset="0.94" stop-color="#fff400"/><stop offset="0.97" stop-color="#f5ff09"/><stop offset="1" stop-color="#e1ff1d"/></linearGradient>
<rect x="394.2" y="200.3" width="77.2" height="1.3" fill="url(#h3)"/>
<linearGradient id="h4"><stop offset="0" stop-color="#ff1400"/><stop offset="0.03" stop-color="#ff0900"/><stop offset="0.06" stop-color="#fc0000"/><stop offset="0.09" stop-color="#f10000"/><stop offset="0.12" stop-color="#e70000"/><stop offset="0.16" stop-color="#dd0000"/><stop offset="0.19" stop-color="#d40000"/><stop offset="0.22" stop-color="#cd0000"/><stop offset="0.25" stop-color="#c70000"/><stop offset="0.28" stop-color="#c30000"/><stop offset="0.31" stop-color="#c20000"/><stop offset="0.34" stop-color="#c30000"/><stop offset="0.38" stop-color="#c80000"/><stop offset="0.41" stop-color="#cf0000"/><stop offset="0.44" stop-color="#d90000"/><stop offset="0.47" stop-color="#e60000"/><stop offset="0.5" stop-color="#f40000"/><stop offset="0.53" stop-color="#ff0500"/><stop offset="0.56" stop-color="#ff1600"/><stop offset="0.59" stop-color="#ff2800"/><stop offset="0.62" stop-color="#ff3b00"/><stop offset="0.66" stop-color="#ff4e00"/><stop offset="0.69" stop-color="#ff6100"/><stop offset="0.72" stop-color="#ff7500"/><stop offset="0.75" stop-color="#ff8800"/><stop offset="0.78" stop-color="#ff9c00"/><stop offset="0.81" stop-color="#ffb000"/><stop offset="0.84" stop-color="#ffc400"/><stop offset="0.88" stop-color="#ffd800"/><stop offset="0.91" stop-color="#ffec00"/><stop offset="0.94" stop-color="#fdff01"/><stop offset="0.97" stop-color="#e8ff16"/><stop offset="1" stop-color="#d5ff29"/></linearGradient>
<rect x="394.2" y="201.3" width="77.2" height="1.3" fill="url(#h4)"/>
<linearGradient id="h5"><stop offset="0" stop-color="#ff2000"/><stop offset="0.03" stop-color="#ff1500"/><stop offset="0.06" stop-color="#ff0900"/><stop offset="0.09" stop-color="#fd0000"/><stop offset="0.12" stop-color="#f30000"/><stop offset="0.16" stop-color="#e90000"/><stop offset="0.19" stop-color="#e00000"/><stop offset="0.22" stop-color="#d90000"/><stop offset="0.25" stop-color="#d30000"/><stop offset="0.28" stop-color="#cf0000"/><stop offset="0.31" stop-color="#ce0000"/><stop offset="0.34" stop-color="#d00000"/><stop offset="0.38" stop-color="#d40000"/><stop offset="0.41" stop-color="#dc0000"/><stop offset="0.44" stop-color="#e60000"/><stop offset="0.47" stop-color="#f20000"/><stop offset="0.5" stop-color="#ff0100"/><stop offset="0.53" stop-color="#ff1100"/><stop offset="0.56" stop-color="#ff2200"/><stop offset="0.59" stop-color="#ff3400"/><stop offset="0.62" stop-color="#ff4700"/><stop offset="0.66" stop-color="#ff5a00"/><stop offset="0.69" stop-color="#ff6d00"/><stop offset="0.72" stop-color="#ff8100"/><stop offset="0.75" stop-color="#ff9500"/><stop offset="0.78" stop-color="#ffa900"/><stop offset="0.81" stop-color="#ffbd00"/><stop offset="0.84" stop-color="#ffd100"/><stop offset="0.88" stop-color="#ffe500"/><stop offset="0.91" stop-color="#fff900"/><stop offset="0.94" stop-color="#f0ff0e"/><stop offset="0.97" stop-color="#dcff22"/><stop offset="1" stop-color="#c8ff36"/></linearGradient>
<rect x="394.2" y="202.3" width="77.2" height="1.3" fill="url(#h5)"/>
<linearGradient id="h6"><stop offset="0" stop-color="#ff2d00"/><stop offset="0.03" stop-color="#ff2100"/><stop offset="0.06" stop-color="#ff1600"/><stop offset="0.09" stop-color="#ff0b00"/><stop offset="0.12" stop-color="#ff0000"/><stop offset="0.16" stop-color="#f50000"/><stop offset="0.19" stop-color="#ed0000"/><stop offset="0.22" stop-color="#e50000"/><stop offset="0.25" stop-color="#df0000"/><stop offset="0.28" stop-color="#dc0000"/><stop offset="0.31" stop-color="#da0000"/><stop offset="0.34" stop-color="#dc0000"/><stop offset="0.38" stop-color="#e10000"/><stop offset="0.41" stop-color="#e80000"/><stop offset="0.44" stop-color="#f20000"/><stop offset="0.47" stop-color="#fe0000"/><stop offset="0.5" stop-color="#ff0e00"/><stop offset="0.53" stop-color="#ff1e00"/><stop offset="0.56" stop-color="#ff2f00"/><stop offset="0.59" stop-color="#ff4100"/><stop offset="0.62" stop-color="#ff5300"/><stop offset="0.66" stop-color="#ff6600"/><stop offset="0.69" stop-color="#ff7a00"/><stop offset="0.72" stop-color="#ff8d00"/><stop offset="0.75" stop-color="#ffa100"/><stop offset="0.78" stop-color="#ffb500"/><stop offset="0.81" stop-color="#ffc900"/><stop offset="0.84" stop-color="#ffdd00"/><stop offset="0.88" stop-color="#fff100"/><stop offset="0.91" stop-color="#f8ff06"/><stop offset="0.94" stop-color="#e4ff1a"/><stop offset="0.97" stop-color="#d0ff2e"/><stop offset="1" stop-color="#bcff42"/></linearGradient>
<rect x="394.2" y="203.3" width="77.2" height="1.3" fill="url(#h6)"/>
<linearGradient id="h7"><stop offset="0" stop-color="#ff3900"/><stop offset="0.03" stop-color="#ff2d00"/><stop offset="0.06" stop-color="#ff2200"/><stop offset="0.09" stop-color="#ff1700"/><stop offset="0.12" stop-color="#ff0d00"/><stop offset="0.16" stop-color="#ff0300"/><stop offset="0.19" stop-color="#f90000"/><stop offset="0.22" stop-color="#f20000"/><stop offset="0.25" stop-color="#ec0000"/><stop offset="0.28" stop-color="#e80000"/><stop offset="0.31" stop-color="#e70000"/><stop offset="0.34" stop-color="#e80000"/><stop offset="0.38" stop-color="#ed0000"/><stop offset="0.41" stop-color="#f40000"/><stop offset="0.44" stop-color="#fe0000"/><stop offset="0.47" stop-color="#ff0c00"/><stop offset="0.5" stop-color="#ff1a00"/><stop offset="0.53" stop-color="#ff2a00"/><stop offset="0.56" stop-color="#ff3b00"/><stop offset="0.59" stop-color="#ff4d00"/><stop offset="0.62" stop-color="#ff6000"/><stop offset="0.66" stop-color="#ff7300"/><stop offset="0.69" stop-color="#ff8600"/><stop offset="0.72" stop-color="#ff9a00"/><stop offset="0.75" stop-color="#ffad00"/><stop offset="0.78" stop-color="#ffc100"/><stop offset="0.81" stop-color="#ffd500"/><stop offset="0.84" stop-color="#ffe900"/><stop offset="0.88" stop-color="#fffd00"/><stop offset="0.91" stop-color="#ecff12"/><stop offset="0.94" stop-color="#d8ff26"/><stop offset="0.97" stop-color="#c4ff3a"/><stop offset="1" stop-color="#b0ff4e"/></linearGradient>
<rect x="394.2" y="204.3" width="77.2" height="1.3" fill="url(#h7)"/>
<linearGradient id="h8"><stop offset="0" stop-color="#ff4500"/><stop offset="0.03" stop-color="#ff3a00"/><stop offset="0.06" stop-color="#ff2e00"/><stop offset="0.09" stop-color="#ff2300"/><stop offset="0.12" stop-color="#ff1900"/><stop offset="0.16" stop-color="#ff0f00"/><stop offset="0.19" stop-color="#ff0600"/><stop offset="0.22" stop-color="#fe0000"/><stop offset="0.25" stop-color="#f80000"/><stop offset="0.28" stop-color="#f40000"/><stop offset="0.31" stop-color="#f30000"/><stop offset="0.34" stop-color="#f50000"/><stop offset="0.38" stop-color="#f90000"/><stop offset="0.41" stop-color="#ff0100"/><stop offset="0.44" stop-color="#ff0c00"/><stop offset="0.47" stop-color="#ff1800"/><stop offset="0.5" stop-color="#ff2600"/><stop offset="0.53" stop-color="#ff3600"/><stop offset="0.56" stop-color="#ff4700"/><stop offset="0.59" stop-color="#ff5900"/><stop offset="0.62" stop-color="#ff6c00"/><stop offset="0.66" stop-color="#ff7f00"/><stop offset="0.69" stop-color="#ff9200"/><stop offset="0.72" stop-color="#ffa600"/><stop offset="0.75" stop-color="#ffba00"/><stop offset="0.78" stop-color="#ffce00"/><stop offset="0.81" stop-color="#ffe100"/><stop offset="0.84" stop-color="#fff500"/><stop offset="0.88" stop-color="#f4ff0a"/><stop offset="0.91" stop-color="#e0ff1e"/><stop offset="0.94" stop-color="#ccff32"/><stop offset="0.97" stop-color="#b8ff46"/><stop offset="1" stop-color="#a5ff59"/></linearGradient>
<rect x="394.2" y="205.3" width="77.2" height="1.3" fill="url(#h8)"/>
<linearGradient id="h9"><stop offset="0" stop-color="#ff5200"/><stop offset="0.03" stop-color="#ff4600"/><stop offset="0.06" stop-color="#ff3b00"/><stop offset="0.09" stop-color="#ff3000"/><stop offset="0.12" stop-color="#ff2500"/><stop offset="0.16" stop-color="#ff1b00"/><stop offset="0.19" stop-color="#ff1300"/><stop offset="0.22" stop-color="#ff0b00"/><stop offset="0.25" stop-color="#ff0500"/><stop offset="0.28" stop-color="#ff0200"/><stop offset="0.31" stop-color="#ff0000"/><stop offset="0.34" stop-color="#ff0200"/><stop offset="0.38" stop-color="#ff0600"/><stop offset="0.41" stop-color="#ff0e00"/><stop offset="0.44" stop-color="#ff1800"/><stop offset="0.47" stop-color="#ff2400"/><stop offset="0.5" stop-color="#ff3300"/><stop offset="0.53" stop-color="#ff4300"/><stop offset="0.56" stop-color="#ff5400"/><stop offset="0.59" stop-color="#ff6600"/><stop offset="0.62" stop-color="#ff7800"/><stop offset="0.66" stop-color="#ff8b00"/><stop offset="0.69" stop-color="#ff9f00"/><stop offset="0.72" stop-color="#ffb200"/><stop offset="0.75" stop-color="#ffc600"/><stop offset="0.78" stop-color="#ffda00"/><stop offset="0.81" stop-color="#ffee00"/><stop offset="0.84" stop-color="#fbff03"/><stop offset="0.88" stop-color="#e7ff17"/><stop offset="0.91" stop-color="#d3ff2b"/><stop offset="0.94" stop-color="#c0ff3e"/><stop offset="0.97" stop-color="#acff52"/><stop offset="1" stop-color="#99ff65"/></linearGradient>
<rect x="394.2" y="206.3" width="77.2" height="1.3" fill="url(#h9)"/>
<linearGradient id="h10"><stop offset="0" stop-color="#ff5e00"/><stop offset="0.03" stop-color="#ff5200"/><stop offset="0.06" stop-color="#ff4700"/><stop offset="0.09" stop-color="#ff3c00"/><stop offset="0.12" stop-color="#ff3100"/><stop offset="0.16" stop-color="#ff2800"/><stop offset="0.19" stop-color="#ff1f00"/><stop offset="0.22" stop-color="#ff1700"/><stop offset="0.25" stop-color="#ff1200"/><stop offset="0.28" stop-color="#ff0e00"/><stop offset="0.31" stop-color="#ff0d00"/><stop offset="0.34" stop-color="#ff0e00"/><stop offset="0.38" stop-color="#ff1300"/><stop offset="0.41" stop-color="#ff1a00"/><stop offset="0.44" stop-color="#ff2400"/><stop offset="0.47" stop-color="#ff3100"/><stop offset="0.5" stop-color="#ff3f00"/><stop offset="0.53" stop-color="#ff4f00"/><stop offset="0.56" stop-color="#ff6000"/><stop offset="0.59" stop-color="#ff7200"/><stop offset="0.62" stop-color="#ff8400"/><stop offset="0.66" stop-color="#ff9700"/><stop offset="0.69" stop-color="#ffab00"/><stop offset="0.72" stop-color="#ffbe00"/><stop offset="0.75" stop-color="#ffd200"/><stop offset="0.78" stop-color="#ffe600"/><stop offset="0.81" stop-color="#fffa00"/><stop offset="0.84" stop-color="#efff0f"/><stop offset="0.88" stop-color="#dbff23"/><stop offset="0.91" stop-color="#c7ff37"/><stop offset="0.94" stop-color="#b4ff4a"/><stop offset="0.97" stop-color="#a0ff5e"/><stop offset="1" stop-color="#8eff70"/></linearGradient>
<rect x="394.2" y="207.3" width="77.2" height="1.3" fill="url(#h10)"/>
<linearGradient id="h11"><stop offset="0" stop-color="#ff6a00"/><stop offset="0.03" stop-color="#ff5f00"/><stop offset="0.06" stop-color="#ff5300"/><stop offset="0.09" stop-color="#ff4800"/><stop offset="0.12" stop-color="#ff3e00"/><stop offset="0.16" stop-color="#ff3400"/><stop offset="0.19" stop-color="#ff2b00"/><stop offset="0.22" stop-color="#ff2400"/><stop offset="0.25" stop-color="#ff1e00"/><stop offset="0.28" stop-color="#ff1a00"/><stop offset="0.31" stop-color="#ff1900"/><stop offset="0.34" stop-color="#ff1a00"/><stop offset="0.38" stop-color="#ff1f00"/><stop offset="0.41" stop-color="#ff2600"/><stop offset="0.44" stop-color="#ff3000"/><stop offset="0.47" stop-color="#ff3d00"/><stop offset="0.5" stop-color="#ff4b00"/><stop offset="0.53" stop-color="#ff5b00"/><stop offset="0.56" stop-color="#ff6c00"/><stop offset="0.59" stop-color="#ff7e00"/><stop offset="0.62" stop-color="#ff9100"/><stop offset="0.66" stop-color="#ffa400"/><stop offset="0.69" stop-color="#ffb700"/><stop offset="0.72" stop-color="#ffcb00"/><stop offset="0.75" stop-color="#ffdf00"/><stop offset="0.78" stop-color="#fff200"/><stop offset="0.81" stop-color="#f7ff07"/><stop offset="0.84" stop-color="#e3ff1b"/><stop offset="0.88" stop-color="#cfff2f"/><stop offset="0.91" stop-color="#bbff43"/><stop offset="0.94" stop-color="#a8ff56"/><stop offset="0.97" stop-color="#95ff69"/><stop offset="1" stop-color="#83ff7b"/></linearGradient>
<rect x="394.2" y="208.3" width="77.2" height="1.3" fill="url(#h11)"/>
<linearGradient id="h12"><stop offset="0" stop-color="#ff7700"/><stop offset="0.03" stop-color="#ff6b00"/><stop offset="0.06" stop-color="#ff5f00"/><stop offset="0.09" stop-color="#ff5400"/><stop offset="0.12" stop-color="#ff4a00"/><stop offset="0.16" stop-color="#ff4000"/><stop offset="0.19" stop-color="#ff3700"/><stop offset="0.22" stop-color="#ff3000"/><stop offset="0.25" stop-color="#ff2a00"/><stop offset="0.28" stop-color="#ff2600"/><stop offset="0.31" stop-color="#ff2500"/><stop offset="0.34" stop-color="#ff2700"/><stop offset="0.38" stop-color="#ff2b00"/><stop offset="0.41" stop-color="#ff3300"/><stop offset="0.44" stop-color="#ff3d00"/><stop offset="0.47" stop-color="#ff4900"/><stop offset="0.5" stop-color="#ff5800"/><stop offset="0.53" stop-color="#ff6700"/><stop offset="0.56" stop-color="#ff7800"/><stop offset="0.59" stop-color="#ff8a00"/><stop offset="0.62" stop-color="#ff9d00"/><stop offset="0.66" stop-color="#ffb000"/><stop offset="0.69" stop-color="#ffc400"/><stop offset="0.72" stop-color="#ffd700"/><stop offset="0.75" stop-color="#ffeb00"/><stop offset="0.78" stop-color="#feff00"/><stop offset="0.81" stop-color="#eaff14"/><stop offset="0.84" stop-color="#d6ff28"/><stop offset="0.88" stop-color="#c3ff3b"/><stop offset="0.91" stop-color="#afff4f"/><stop offset="0.94" stop-color="#9cff62"/><stop offset="0.97" stop-color="#89ff75"/><stop offset="1" stop-color="#78ff86"/></linearGradient>
<rect x="394.2" y="209.3" width="77.2" height="1.3" fill="url(#h12)"/>
<linearGradient id="h13"><stop offset="0" stop-color="#ff8300"/><stop offset="0.03" stop-color="#ff7700"/><stop offset="0.06" stop-color="#ff6c00"/><stop offset="0.09" stop-color="#ff6100"/><stop offset="0.12" stop-color="#ff5600"/><stop offset="0.16" stop-color="#ff4d00"/><stop offset="0.19" stop-color="#ff4400"/><stop offset="0.22" stop-color="#ff3c00"/><stop offset="0.25" stop-color="#ff3600"/><stop offset="0.28" stop-color="#ff3300"/><stop offset="0.31" stop-color="#ff3200"/><stop offset="0.34" stop-color="#ff3300"/><stop offset="0.38" stop-color="#ff3800"/><stop offset="0.41" stop-color="#ff3f00"/><stop offset="0.44" stop-color="#ff4900"/><stop offset="0.47" stop-color="#ff5500"/><stop offset="0.5" stop-color="#ff6400"/><stop offset="0.53" stop-color="#ff7400"/><stop offset="0.56" stop-color="#ff8500"/><stop offset="0.59" stop-color="#ff9700"/><stop offset="0.62" stop-color="#ffa900"/><stop offset="0.66" stop-color="#ffbc00"/><stop offset="0.69" stop-color="#ffd000"/><stop offset="0.72" stop-color="#ffe300"/><stop offset="0.75" stop-color="#fff700"/><stop offset="0.78" stop-color="#f2ff0c"/><stop offset="0.81" stop-color="#deff20"/><stop offset="0.84" stop-color="#caff34"/><stop offset="0.88" stop-color="#b7ff47"/><stop offset="0.91" stop-color="#a3ff5b"/><stop offset="0.94" stop-color="#90ff6e"/><stop offset="0.97" stop-color="#7fff7f"/><stop offset="1" stop-color="#6eff90"/></linearGradient>
<rect x="394.2" y="210.3" width="77.2" height="1.3" fill="url(#h13)"/>
<linearGradient id="h14"><stop offset="0" stop-color="#ff8f00"/><stop offset="0.03" stop-color="#ff8400"/><stop offset="0.06" stop-color="#ff7800"/><stop offset="0.09" stop-color="#ff6d00"/><stop offset="0.12" stop-color="#ff6300"/><stop offset="0.16" stop-color="#ff5900"/><stop offset="0.19" stop-color="#ff5000"/><stop offset="0.22" stop-color="#ff4900"/><stop offset="0.25" stop-color="#ff4300"/><stop offset="0.28" stop-color="#ff3f00"/><stop offset="0.31" stop-color="#ff3e00"/><stop offset="0.34" stop-color="#ff3f00"/><stop offset="0.38" stop-color="#ff4400"/><stop offset="0.41" stop-color="#ff4b00"/><stop offset="0.44" stop-color="#ff5500"/><stop offset="0.47" stop-color="#ff6200"/><stop offset="0.5" stop-color="#ff7000"/><stop offset="0.53" stop-color="#ff8000"/><stop offset="0.56" stop-color="#ff9100"/><stop offset="0.59" stop-color="#ffa300"/><stop offset="0.62" stop-color="#ffb600"/><stop offset="0.66" stop-color="#ffc900"/><stop offset="0.69" stop-color="#ffdc00"/><stop offset="0.72" stop-color="#fff000"/><stop offset="0.75" stop-color="#f9ff05"/><stop offset="0.78" stop-color="#e6ff18"/><stop offset="0.81" stop-color="#d2ff2c"/><stop offset="0.84" stop-color="#beff40"/><stop offset="0.88" stop-color="#abff53"/><stop offset="0.91" stop-color="#98ff66"/><stop offset="0.94" stop-color="#85ff79"/><stop offset="0.97" stop-color="#74ff8a"/><stop offset="1" stop-color="#65ff99"/></linearGradient>
<rect x="394.2" y="211.3" width="77.2" height="1.3" fill="url(#h14)"/>
<linearGradient id="h15"><stop offset="0" stop-color="#ff9c00"/><stop offset="0.03" stop-color="#ff9000"/><stop offset="0.06" stop-color="#ff8400"/><stop offset="0.09" stop-color="#ff7900"/><stop offset="0.12" stop-color="#ff6f00"/><stop offset="0.16" stop-color="#ff6500"/><stop offset="0.19" stop-color="#ff5c00"/><stop offset="0.22" stop-color="#ff5500"/><stop offset="0.25" stop-color="#ff4f00"/><stop offset="0.28" stop-color="#ff4b00"/><stop offset="0.31" stop-color="#ff4a00"/><stop offset="0.34" stop-color="#ff4c00"/><stop offset="0.38" stop-color="#ff5000"/><stop offset="0.41" stop-color="#ff5800"/><stop offset="0.44" stop-color="#ff6200"/><stop offset="0.47" stop-color="#ff6e00"/><stop offset="0.5" stop-color="#ff7c00"/><stop offset="0.53" stop-color="#ff8c00"/><stop offset="0.56" stop-color="#ff9d00"/><stop offset="0.59" stop-color="#ffaf00"/><stop offset="0.62" stop-color="#ffc200"/><stop offset="0.66" stop-color="#ffd500"/><stop offset="0.69" stop-color="#ffe900"/><stop offset="0.72" stop-color="#fffc00"/><stop offset="0.75" stop-color="#edff11"/><stop offset="0.78" stop-color="#d9ff25"/><stop offset="0.81" stop-color="#c6ff38"/><stop offset="0.84" stop-color="#b2ff4c"/><stop offset="0.88" stop-color="#9fff5f"/><stop offset="0.91" stop-color="#8cff72"/><stop offset="0.94" stop-color="#7bff83"/><stop offset="0.97" stop-color="#6bff93"/><stop offset="1" stop-color="#5cffa2"/></linearGradient>
<rect x="394.2" y="212.3" width="77.2" height="1.3" fill="url(#h15)"/>
<linearGradient id="h16"><stop offset="0" stop-color="#ffa800"/><stop offset="0.03" stop-color="#ff9c00"/><stop offset="0.06" stop-color="#ff9100"/><stop offset="0.09" stop-color="#ff8600"/><stop offset="0.12" stop-color="#ff7b00"/><stop offset="0.16" stop-color="#ff7100"/><stop offset="0.19" stop-color="#ff6900"/><stop offset="0.22" stop-color="#ff6100"/><stop offset="0.25" stop-color="#ff5b00"/><stop offset="0.28" stop-color="#ff5800"/><stop offset="0.31" stop-color="#ff5600"/><stop offset="0.34" stop-color="#ff5800"/><stop offset="0.38" stop-color="#ff5c00"/><stop offset="0.41" stop-color="#ff6400"/><stop offset="0.44" stop-color="#ff6e00"/><stop offset="0.47" stop-color="#ff7a00"/><stop offset="0.5" stop-color="#ff8900"/><stop offset="0.53" stop-color="#ff9900"/><stop offset="0.56" stop-color="#ffaa00"/><stop offset="0.59" stop-color="#ffbc00"/><stop offset="0.62" stop-color="#ffce00"/><stop offset="0.66" stop-color="#ffe200"/><stop offset="0.69" stop-color="#fff500"/><stop offset="0.72" stop-color="#f4ff0a"/><stop offset="0.75" stop-color="#e1ff1d"/><stop offset="0.78" stop-color="#cdff31"/><stop offset="0.81" stop-color="#b9ff45"/><stop offset="0.84" stop-color="#a6ff58"/><stop offset="0.88" stop-color="#93ff6b"/><stop offset="0.91" stop-color="#81ff7d"/><stop offset="0.94" stop-color="#70ff8e"/><stop offset="0.97" stop-color="#62ff9c"/><stop offset="1" stop-color="#53ffab"/></linearGradient>
<rect x="394.2" y="213.3" width="77.2" height="1.3" fill="url(#h16)"/>
<linearGradient id="h17"><stop offset="0" stop-color="#ffb500"/><stop offset="0.03" stop-color="#ffa900"/><stop offset="0.06" stop-color="#ff9d00"/><stop offset="0.09" stop-color="#ff9200"/><stop offset="0.12" stop-color="#ff8800"/><stop offset="0.16" stop-color="#ff7e00"/><stop offset="0.19" stop-color="#ff7500"/><stop offset="0.22" stop-color="#ff6d00"/><stop offset="0.25" stop-color="#ff6800"/><stop offset="0.28" stop-color="#ff6400"/><stop offset="0.31" stop-color="#ff6300"/><stop offset="0.34" stop-color="#ff6400"/><stop offset="0.38" stop-color="#ff6900"/><stop offset="0.41" stop-color="#ff7000"/><stop offset="0.44" stop-color="#ff7a00"/><stop offset="0.47" stop-color="#ff8700"/><stop offset="0.5" stop-color="#ff9500"/><stop offset="0.53" stop-color="#ffa500"/><stop offset="0.56" stop-color="#ffb600"/><stop offset="0.59" stop-color="#ffc800"/><stop offset="0.62" stop-color="#ffdb00"/><stop offset="0.66" stop-color="#ffee00"/><stop offset="0.69" stop-color="#fcff02"/><stop offset="0.72" stop-color="#e8ff16"/><stop offset="0.75" stop-color="#d4ff2a"/><stop offset="0.78" stop-color="#c1ff3d"/><stop offset="0.81" stop-color="#adff51"/><stop offset="0.84" stop-color="#9aff64"/><stop offset="0.88" stop-color="#88ff76"/><stop offset="0.91" stop-color="#77ff87"/><stop offset="0.94" stop-color="#67ff97"/><stop offset="0.97" stop-color="#59ffa5"/><stop offset="1" stop-color="#4affb4"/></linearGradient>
<rect x="394.2" y="214.3" width="77.2" height="1.3" fill="url(#h17)"/>
<linearGradient id="h18"><stop offset="0" stop-color="#ffc100"/><stop offset="0.03" stop-color="#ffb500"/><stop offset="0.06" stop-color="#ffaa00"/><stop offset="0.09" stop-color="#ff9f00"/><stop offset="0.12" stop-color="#ff9400"/><stop offset="0.16" stop-color="#ff8a00"/><stop offset="0.19" stop-color="#ff8100"/><stop offset="0.22" stop-color="#ff7a00"/><stop offset="0.25" stop-color="#ff7400"/><stop offset="0.28" stop-color="#ff7000"/><stop offset="0.31" stop-color="#ff6f00"/><stop offset="0.34" stop-color="#ff7100"/><stop offset="0.38" stop-color="#ff7500"/><stop offset="0.41" stop-color="#ff7c00"/><stop offset="0.44" stop-color="#ff8700"/><stop offset="0.47" stop-color="#ff9300"/><stop offset="0.5" stop-color="#ffa100"/><stop offset="0.53" stop-color="#ffb100"/><stop offset="0.56" stop-color="#ffc300"/><stop offset="0.59" stop-color="#ffd500"/><stop offset="0.62" stop-color="#ffe700"/><stop offset="0.66" stop-color="#fffb00"/><stop offset="0.69" stop-color="#efff0f"/><stop offset="0.72" stop-color="#dbff23"/><stop offset="0.75" stop-color="#c8ff36"/><stop offset="0.78" stop-color="#b5ff49"/><stop offset="0.81" stop-color="#a1ff5d"/><stop offset="0.84" stop-color="#8fff6f"/><stop offset="0.88" stop-color="#7dff81"/><stop offset="0.91" stop-color="#6dff91"/><stop offset="0.94" stop-color="#5effa0"/><stop offset="0.97" stop-color="#51ffad"/><stop offset="1" stop-color="#40ffbe"/></linearGradient>
<rect x="394.2" y="215.3" width="77.2" height="1.3" fill="url(#h18)"/>
<linearGradient id="h19"><stop offset="0" stop-color="#ffce00"/><stop offset="0.03" stop-color="#ffc200"/><stop offset="0.06" stop-color="#ffb600"/><stop offset="0.09" stop-color="#ffab00"/><stop offset="0.12" stop-color="#ffa000"/><stop offset="0.16" stop-color="#ff9700"/><stop offset="0.19" stop-color="#ff8e00"/><stop offset="0.22" stop-color="#ff8600"/><stop offset="0.25" stop-color="#ff8000"/><stop offset="0.28" stop-color="#ff7d00"/><stop offset="0.31" stop-color="#ff7b00"/><stop offset="0.34" stop-color="#ff7d00"/><stop offset="0.38" stop-color="#ff8100"/><stop offset="0.41" stop-color="#ff8900"/><stop offset="0.44" stop-color="#ff9300"/><stop offset="0.47" stop-color="#ff9f00"/><stop offset="0.5" stop-color="#ffae00"/><stop offset="0.53" stop-color="#ffbe00"/><stop offset="0.56" stop-color="#ffcf00"/><stop offset="0.59" stop-color="#ffe100"/><stop offset="0.62" stop-color="#fff400"/><stop offset="0.66" stop-color="#f6ff08"/><stop offset="0.69" stop-color="#e2ff1c"/><stop offset="0.72" stop-color="#cfff2f"/><stop offset="0.75" stop-color="#bcff42"/><stop offset="0.78" stop-color="#a8ff56"/><stop offset="0.81" stop-color="#96ff68"/><stop offset="0.84" stop-color="#83ff7b"/><stop offset="0.88" stop-color="#72ff8c"/><stop offset="0.91" stop-color="#63ff9b"/><stop offset="0.94" stop-color="#56ffa8"/><stop offset="0.97" stop-color="#48ffb6"/><stop offset="1" stop-color="#35ffc9"/></linearGradient>
<rect x="394.2" y="216.3" width="77.2" height="1.3" fill="url(#h19)"/>
<linearGradient id="h20"><stop offset="0" stop-color="#ffdb00"/><stop offset="0.03" stop-color="#ffcf00"/><stop offset="0.06" stop-color="#ffc300"/><stop offset="0.09" stop-color="#ffb800"/><stop offset="0.12" stop-color="#ffad00"/><stop offset="0.16" stop-color="#ffa300"/><stop offset="0.19" stop-color="#ff9a00"/><stop offset="0.22" stop-color="#ff9300"/><stop offset="0.25" stop-color="#ff8d00"/><stop offset="0.28" stop-color="#ff8900"/><stop offset="0.31" stop-color="#ff8800"/><stop offset="0.34" stop-color="#ff8900"/><stop offset="0.38" stop-color="#ff8e00"/><stop offset="0.41" stop-color="#ff9500"/><stop offset="0.44" stop-color="#ff9f00"/><stop offset="0.47" stop-color="#ffac00"/><stop offset="0.5" stop-color="#ffba00"/><stop offset="0.53" stop-color="#ffca00"/><stop offset="0.56" stop-color="#ffdc00"/><stop offset="0.59" stop-color="#ffee00"/><stop offset="0.62" stop-color="#fcff02"/><stop offset="0.66" stop-color="#e9ff15"/><stop offset="0.69" stop-color="#d6ff28"/><stop offset="0.72" stop-color="#c3ff3b"/><stop offset="0.75" stop-color="#afff4f"/><stop offset="0.78" stop-color="#9cff62"/><stop offset="0.81" stop-color="#8aff74"/><stop offset="0.84" stop-color="#79ff85"/><stop offset="0.88" stop-color="#69ff95"/><stop offset="0.91" stop-color="#5bffa3"/><stop offset="0.94" stop-color="#4effb0"/><stop offset="0.97" stop-color="#3fffbf"/><stop offset="1" stop-color="#29ffd5"/></linearGradient>
<rect x="394.2" y="217.3" width="77.2" height="1.3" fill="url(#h20)"/>
<linearGradient id="h21"><stop offset="0" stop-color="#ffe800"/><stop offset="0.03" stop-color="#ffdc00"/><stop offset="0.06" stop-color="#ffd000"/><stop offset="0.09" stop-color="#ffc400"/><stop offset="0.12" stop-color="#ffb900"/><stop offset="0.16" stop-color="#ffaf00"/><stop offset="0.19" stop-color="#ffa600"/><stop offset="0.22" stop-color="#ff9f00"/><stop offset="0.25" stop-color="#ff9900"/><stop offset="0.28" stop-color="#ff9500"/><stop offset="0.31" stop-color="#ff9400"/><stop offset="0.34" stop-color="#ff9600"/><stop offset="0.38" stop-color="#ff9a00"/><stop offset="0.41" stop-color="#ffa200"/><stop offset="0.44" stop-color="#ffac00"/><stop offset="0.47" stop-color="#ffb800"/><stop offset="0.5" stop-color="#ffc700"/><stop offset="0.53" stop-color="#ffd700"/><stop offset="0.56" stop-color="#ffe900"/><stop offset="0.59" stop-color="#fffb00"/><stop offset="0.62" stop-color="#efff0f"/><stop offset="0.66" stop-color="#dcff22"/><stop offset="0.69" stop-color="#c9ff35"/><stop offset="0.72" stop-color="#b6ff48"/><stop offset="0.75" stop-color="#a3ff5b"/><stop offset="0.78" stop-color="#91ff6d"/><stop offset="0.81" stop-color="#7fff7f"/><stop offset="0.84" stop-color="#6eff90"/><stop offset="0.88" stop-color="#60ff9e"/><stop offset="0.91" stop-color="#53ffab"/><stop offset="0.94" stop-color="#47ffb7"/><stop offset="0.97" stop-color="#35ffc9"/><stop offset="1" stop-color="#1cffe2"/></linearGradient>
<rect x="394.2" y="218.3" width="77.2" height="1.3" fill="url(#h21)"/>
<linearGradient id="h22"><stop offset="0" stop-color="#fff600"/><stop offset="0.03" stop-color="#ffe900"/><stop offset="0.06" stop-color="#ffdd00"/><stop offset="0.09" stop-color="#ffd100"/><stop offset="0.12" stop-color="#ffc600"/><stop offset="0.16" stop-color="#ffbc00"/><stop offset="0.19" stop-color="#ffb300"/><stop offset="0.22" stop-color="#ffab00"/><stop offset="0.25" stop-color="#ffa500"/><stop offset="0.28" stop-color="#ffa200"/><stop offset="0.31" stop-color="#ffa000"/><stop offset="0.34" stop-color="#ffa200"/><stop offset="0.38" stop-color="#ffa700"/><stop offset="0.41" stop-color="#ffae00"/><stop offset="0.44" stop-color="#ffb800"/><stop offset="0.47" stop-color="#ffc500"/><stop offset="0.5" stop-color="#ffd400"/><stop offset="0.53" stop-color="#ffe400"/><stop offset="0.56" stop-color="#fff500"/><stop offset="0.59" stop-color="#f5ff09"/><stop offset="0.62" stop-color="#e2ff1c"/><stop offset="0.66" stop-color="#cfff2f"/><stop offset="0.69" stop-color="#bcff42"/><stop offset="0.72" stop-color="#aaff54"/><stop offset="0.75" stop-color="#97ff67"/><stop offset="0.78" stop-color="#85ff79"/><stop offset="0.81" stop-color="#74ff8a"/><stop offset="0.84" stop-color="#65ff99"/><stop offset="0.88" stop-color="#58ffa6"/><stop offset="0.91" stop-color="#4cffb2"/><stop offset="0.94" stop-color="#3effc0"/><stop offset="0.97" stop-color="#29ffd5"/><stop offset="1" stop-color="#0fffef"/></linearGradient>
<rect x="394.2" y="219.3" width="77.2" height="1.3" fill="url(#h22)"/>
<linearGradient id="h23"><stop offset="0" stop-color="#f9ff05"/><stop offset="0.03" stop-color="#fff700"/><stop offset="0.06" stop-color="#ffea00"/><stop offset="0.09" stop-color="#ffde00"/><stop offset="0.12" stop-color="#ffd300"/><stop offset="0.16" stop-color="#ffc900"/><stop offset="0.19" stop-color="#ffc000"/><stop offset="0.22" stop-color="#ffb800"/><stop offset="0.25" stop-color="#ffb200"/><stop offset="0.28" stop-color="#ffae00"/><stop offset="0.31" stop-color="#ffad00"/><stop offset="0.34" stop-color="#ffaf00"/><stop offset="0.38" stop-color="#ffb300"/><stop offset="0.41" stop-color="#ffbb00"/><stop offset="0.44" stop-color="#ffc500"/><stop offset="0.47" stop-color="#ffd200"/><stop offset="0.5" stop-color="#ffe000"/><stop offset="0.53" stop-color="#fff100"/><stop offset="0.56" stop-color="#faff04"/><stop offset="0.59" stop-color="#e8ff16"/><stop offset="0.62" stop-color="#d5ff29"/><stop offset="0.66" stop-color="#c2ff3c"/><stop offset="0.69" stop-color="#b0ff4e"/><stop offset="0.72" stop-color="#9dff61"/><stop offset="0.75" stop-color="#8bff73"/><stop offset="0.78" stop-color="#7aff84"/><stop offset="0.81" stop-color="#6aff94"/><stop offset="0.84" stop-color="#5cffa2"/><stop offset="0.88" stop-color="#50ffae"/><stop offset="0.91" stop-color="#45ffb9"/><stop offset="0.94" stop-color="#34ffca"/><stop offset="0.97" stop-color="#1dffe1"/><stop offset="1" stop-color="#02fffc"/></linearGradient>
<rect x="394.2" y="220.3" width="77.2" height="1.3" fill="url(#h23)"/>
<linearGradient id="h24"><stop offset="0" stop-color="#eaff14"/><stop offset="0.03" stop-color="#f8ff06"/><stop offset="0.06" stop-color="#fff800"/><stop offset="0.09" stop-color="#ffeb00"/><stop offset="0.12" stop-color="#ffe000"/><stop offset="0.16" stop-color="#ffd600"/><stop offset="0.19" stop-color="#ffcc00"/><stop offset="0.22" stop-color="#ffc500"/><stop offset="0.25" stop-color="#ffbf00"/><stop offset="0.28" stop-color="#ffbb00"/><stop offset="0.31" stop-color="#ffb900"/><stop offset="0.34" stop-color="#ffbb00"/><stop offset="0.38" stop-color="#ffc000"/><stop offset="0.41" stop-color="#ffc700"/><stop offset="0.44" stop-color="#ffd200"/><stop offset="0.47" stop-color="#ffdf00"/><stop offset="0.5" stop-color="#ffee00"/><stop offset="0.53" stop-color="#fffe00"/><stop offset="0.56" stop-color="#edff11"/><stop offset="0.59" stop-color="#daff24"/><stop offset="0.62" stop-color="#c8ff36"/><stop offset="0.66" stop-color="#b5ff49"/><stop offset="0.69" stop-color="#a3ff5b"/><stop offset="0.72" stop-color="#91ff6d"/><stop offset="0.75" stop-color="#80ff7e"/><stop offset="0.78" stop-color="#6fff8f"/><stop offset="0.81" stop-color="#61ff9d"/><stop offset="0.84" stop-color="#54ffaa"/><stop offset="0.88" stop-color="#49ffb5"/><stop offset="0.91" stop-color="#3dffc1"/><stop offset="0.94" stop-color="#29ffd5"/><stop offset="0.97" stop-color="#10ffee"/><stop offset="1" stop-color="#00f4ff"/></linearGradient>
<rect x="394.2" y="221.3" width="77.2" height="1.3" fill="url(#h24)"/>
<linearGradient id="h25"><stop offset="0" stop-color="#dbff23"/><stop offset="0.03" stop-color="#e9ff15"/><stop offset="0.06" stop-color="#f7ff07"/><stop offset="0.09" stop-color="#fff900"/><stop offset="0.12" stop-color="#ffed00"/><stop offset="0.16" stop-color="#ffe300"/><stop offset="0.19" stop-color="#ffd900"/><stop offset="0.22" stop-color="#ffd100"/><stop offset="0.25" stop-color="#ffcb00"/><stop offset="0.28" stop-color="#ffc700"/><stop offset="0.31" stop-color="#ffc600"/><stop offset="0.34" stop-color="#ffc800"/><stop offset="0.38" stop-color="#ffcc00"/><stop offset="0.41" stop-color="#ffd400"/><stop offset="0.44" stop-color="#ffdf00"/><stop offset="0.47" stop-color="#ffec00"/><stop offset="0.5" stop-color="#fffb00"/><stop offset="0.53" stop-color="#f1ff0d"/><stop offset="0.56" stop-color="#dfff1f"/><stop offset="0.59" stop-color="#cdff31"/><stop offset="0.62" stop-color="#bbff43"/><stop offset="0.66" stop-color="#a9ff55"/><stop offset="0.69" stop-color="#97ff67"/><stop offset="0.72" stop-color="#85ff79"/><stop offset="0.75" stop-color="#75ff89"/><stop offset="0.78" stop-color="#66ff98"/><stop offset="0.81" stop-color="#58ffa6"/><stop offset="0.84" stop-color="#4dffb1"/><stop offset="0.88" stop-color="#43ffbb"/><stop offset="0.91" stop-color="#34ffca"/><stop offset="0.94" stop-color="#1dffe1"/><stop offset="0.97" stop-color="#03fffb"/><stop offset="1" stop-color="#00e7ff"/></linearGradient>
<rect x="394.2" y="222.3" width="77.2" height="1.3" fill="url(#h25)"/>
<linearGradient id="h26"><stop offset="0" stop-color="#cbff33"/><stop offset="0.03" stop-color="#daff24"/><stop offset="0.06" stop-color="#e8ff16"/><stop offset="0.09" stop-color="#f6ff08"/><stop offset="0.12" stop-color="#fffb00"/><stop offset="0.16" stop-color="#fff000"/><stop offset="0.19" stop-color="#ffe600"/><stop offset="0.22" stop-color="#ffde00"/><stop offset="0.25" stop-color="#ffd800"/><stop offset="0.28" stop-color="#ffd400"/><stop offset="0.31" stop-color="#ffd300"/><stop offset="0.34" stop-color="#ffd500"/><stop offset="0.38" stop-color="#ffd900"/><stop offset="0.41" stop-color="#ffe100"/><stop offset="0.44" stop-color="#ffec00"/><stop offset="0.47" stop-color="#fff900"/><stop offset="0.5" stop-color="#f4ff0a"/><stop offset="0.53" stop-color="#e3ff1b"/><stop offset="0.56" stop-color="#d1ff2d"/><stop offset="0.59" stop-color="#bfff3f"/><stop offset="0.62" stop-color="#adff51"/><stop offset="0.66" stop-color="#9cff62"/><stop offset="0.69" stop-color="#8bff73"/><stop offset="0.72" stop-color="#7aff84"/><stop offset="0.75" stop-color="#6aff94"/><stop offset="0.78" stop-color="#5cffa2"/><stop offset="0.81" stop-color="#51ffad"/><stop offset="0.84" stop-color="#47ffb7"/><stop offset="0.88" stop-color="#3bffc3"/><stop offset="0.91" stop-color="#2affd4"/><stop offset="0.94" stop-color="#11ffed"/><stop offset="0.97" stop-color="#00f5ff"/><stop offset="1" stop-color="#00daff"/></linearGradient>
<rect x="394.2" y="223.3" width="77.2" height="1.3" fill="url(#h26)"/>
<linearGradient id="h27"><stop offset="0" stop-color="#baff44"/><stop offset="0.03" stop-color="#caff34"/><stop offset="0.06" stop-color="#d9ff25"/><stop offset="0.09" stop-color="#e7ff17"/><stop offset="0.12" stop-color="#f3ff0b"/><stop offset="0.16" stop-color="#fffe00"/><stop offset="0.19" stop-color="#fff400"/><stop offset="0.22" stop-color="#ffec00"/><stop offset="0.25" stop-color="#ffe500"/><stop offset="0.28" stop-color="#ffe100"/><stop offset="0.31" stop-color="#ffe000"/><stop offset="0.34" stop-color="#ffe200"/><stop offset="0.38" stop-color="#ffe600"/><stop offset="0.41" stop-color="#ffee00"/><stop offset="0.44" stop-color="#fff900"/><stop offset="0.47" stop-color="#f6ff08"/><stop offset="0.5" stop-color="#e6ff18"/><stop offset="0.53" stop-color="#d5ff29"/><stop offset="0.56" stop-color="#c3ff3b"/><stop offset="0.59" stop-color="#b1ff4d"/><stop offset="0.62" stop-color="#a0ff5e"/><stop offset="0.66" stop-color="#8fff6f"/><stop offset="0.69" stop-color="#7fff7f"/><stop offset="0.72" stop-color="#6fff8f"/><stop offset="0.75" stop-color="#61ff9d"/><stop offset="0.78" stop-color="#54ffaa"/><stop offset="0.81" stop-color="#4affb4"/><stop offset="0.84" stop-color="#40ffbe"/><stop offset="0.88" stop-color="#33ffcb"/><stop offset="0.91" stop-color="#1effe0"/><stop offset="0.94" stop-color="#04fffa"/><stop offset="0.97" stop-color="#00e8ff"/><stop offset="1" stop-color="#00cdff"/></linearGradient>
<rect x="394.2" y="224.3" width="77.2" height="1.3" fill="url(#h27)"/>
<linearGradient id="h28"><stop offset="0" stop-color="#a9ff55"/><stop offset="0.03" stop-color="#b9ff45"/><stop offset="0.06" stop-color="#c9ff35"/><stop offset="0.09" stop-color="#d7ff27"/><stop offset="0.12" stop-color="#e4ff1a"/><stop offset="0.16" stop-color="#f0ff0e"/><stop offset="0.19" stop-color="#fbff03"/><stop offset="0.22" stop-color="#fffa00"/><stop offset="0.25" stop-color="#fff300"/><stop offset="0.28" stop-color="#ffef00"/><stop offset="0.31" stop-color="#ffed00"/><stop offset="0.34" stop-color="#ffef00"/><stop offset="0.38" stop-color="#fff400"/><stop offset="0.41" stop-color="#fffc00"/><stop offset="0.44" stop-color="#f6ff08"/><stop offset="0.47" stop-color="#e8ff16"/><stop offset="0.5" stop-color="#d7ff27"/><stop offset="0.53" stop-color="#c6ff38"/><stop offset="0.56" stop-color="#b4ff4a"/><stop offset="0.59" stop-color="#a3ff5b"/><stop offset="0.62" stop-color="#93ff6b"/><stop offset="0.66" stop-color="#83ff7b"/><stop offset="0.69" stop-color="#73ff8b"/><stop offset="0.72" stop-color="#65ff99"/><stop offset="0.75" stop-color="#58ffa6"/><stop offset="0.78" stop-color="#4dffb1"/><stop offset="0.81" stop-color="#44ffba"/><stop offset="0.84" stop-color="#3affc4"/><stop offset="0.88" stop-color="#2affd4"/><stop offset="0.91" stop-color="#13ffeb"/><stop offset="0.94" stop-color="#00f7ff"/><stop offset="0.97" stop-color="#00dbff"/><stop offset="1" stop-color="#00c1ff"/></linearGradient>
<rect x="394.2" y="225.3" width="77.2" height="1.3" fill="url(#h28)"/>
<linearGradient id="h29"><stop offset="0" stop-color="#97ff67"/><stop offset="0.03" stop-color="#a8ff56"/><stop offset="0.06" stop-color="#b8ff46"/><stop offset="0.09" stop-color="#c7ff37"/><stop offset="0.12" stop-color="#d5ff29"/><stop offset="0.16" stop-color="#e1ff1d"/><stop offset="0.19" stop-color="#ecff12"/><stop offset="0.22" stop-color="#f5ff09"/><stop offset="0.25" stop-color="#fcff02"/><stop offset="0.28" stop-color="#fffd00"/><stop offset="0.31" stop-color="#fffb00"/><stop offset="0.34" stop-color="#fffd00"/><stop offset="0.38" stop-color="#fbff03"/><stop offset="0.41" stop-color="#f3ff0b"/><stop offset="0.44" stop-color="#e7ff17"/><stop offset="0.47" stop-color="#d9ff25"/><stop offset="0.5" stop-color="#c8ff36"/><stop offset="0.53" stop-color="#b7ff47"/><stop offset="0.56" stop-color="#a6ff58"/><stop offset="0.59" stop-color="#95ff69"/><stop offset="0.62" stop-color="#86ff78"/><stop offset="0.66" stop-color="#77ff87"/><stop offset="0.69" stop-color="#68ff96"/><stop offset="0.72" stop-color="#5bffa3"/><stop offset="0.75" stop-color="#50ffae"/><stop offset="0.78" stop-color="#47ffb7"/><stop offset="0.81" stop-color="#3effc0"/><stop offset="0.84" stop-color="#32ffcc"/><stop offset="0.88" stop-color="#1fffdf"/><stop offset="0.91" stop-color="#06fff8"/><stop offset="0.94" stop-color="#00eaff"/><stop offset="0.97" stop-color="#00cfff"/><stop offset="1" stop-color="#00b5ff"/></linearGradient>
<rect x="394.2" y="226.3" width="77.2" height="1.3" fill="url(#h29)"/>
<linearGradient id="h30"><stop offset="0" stop-color="#86ff78"/><stop offset="0.03" stop-color="#96ff68"/><stop offset="0.06" stop-color="#a6ff58"/><stop offset="0.09" stop-color="#b6ff48"/><stop offset="0.12" stop-color="#c4ff3a"/><stop offset="0.16" stop-color="#d1ff2d"/><stop offset="0.19" stop-color="#ddff21"/><stop offset="0.22" stop-color="#e6ff18"/><stop offset="0.25" stop-color="#edff11"/><stop offset="0.28" stop-color="#f2ff0c"/><stop offset="0.31" stop-color="#f3ff0b"/><stop offset="0.34" stop-color="#f2ff0c"/><stop offset="0.38" stop-color="#ecff12"/><stop offset="0.41" stop-color="#e4ff1a"/><stop offset="0.44" stop-color="#d8ff26"/><stop offset="0.47" stop-color="#c9ff35"/><stop offset="0.5" stop-color="#b9ff45"/><stop offset="0.53" stop-color="#a8ff56"/><stop offset="0.56" stop-color="#97ff67"/><stop offset="0.59" stop-color="#87ff77"/><stop offset="0.62" stop-color="#79ff85"/><stop offset="0.66" stop-color="#6bff93"/><stop offset="0.69" stop-color="#5effa0"/><stop offset="0.72" stop-color="#53ffab"/><stop offset="0.75" stop-color="#49ffb5"/><stop offset="0.78" stop-color="#41ffbd"/><stop offset="0.81" stop-color="#38ffc6"/><stop offset="0.84" stop-color="#2affd4"/><stop offset="0.88" stop-color="#14ffea"/><stop offset="0.91" stop-color="#00f9ff"/><stop offset="0.94" stop-color="#00deff"/><stop offset="0.97" stop-color="#00c3ff"/><stop offset="1" stop-color="#00a9ff"/></linearGradient>
<rect x="394.2" y="227.3" width="77.2" height="1.3" fill="url(#h30)"/>
<linearGradient id="h31"><stop offset="0" stop-color="#75ff89"/><stop offset="0.03" stop-color="#85ff79"/><stop offset="0.06" stop-color="#95ff69"/><stop offset="0.09" stop-color="#a4ff5a"/><stop offset="0.12" stop-color="#b3ff4b"/><stop offset="0.16" stop-color="#c1ff3d"/><stop offset="0.19" stop-color="#cdff31"/><stop offset="0.22" stop-color="#d7ff27"/><stop offset="0.25" stop-color="#deff20"/><stop offset="0.28" stop-color="#e3ff1b"/><stop offset="0.31" stop-color="#e4ff1a"/><stop offset="0.34" stop-color="#e3ff1b"/><stop offset="0.38" stop-color="#ddff21"/><stop offset="0.41" stop-color="#d4ff2a"/><stop offset="0.44" stop-color="#c8ff36"/><stop offset="0.47" stop-color="#b9ff45"/><stop offset="0.5" stop-color="#a9ff55"/><stop offset="0.53" stop-color="#98ff66"/><stop offset="0.56" stop-color="#89ff75"/><stop offset="0.59" stop-color="#7aff84"/><stop offset="0.62" stop-color="#6dff91"/><stop offset="0.66" stop-color="#61ff9d"/><stop offset="0.69" stop-color="#55ffa9"/><stop offset="0.72" stop-color="#4cffb2"/><stop offset="0.75" stop-color="#43ffbb"/><stop offset="0.78" stop-color="#3cffc2"/><stop offset="0.81" stop-color="#32ffcc"/><stop offset="0.84" stop-color="#20ffde"/><stop offset="0.88" stop-color="#09fff5"/><stop offset="0.91" stop-color="#00edff"/><stop offset="0.94" stop-color="#00d2ff"/><stop offset="0.97" stop-color="#00b7ff"/><stop offset="1" stop-color="#009dff"/></linearGradient>
<rect x="394.2" y="228.3" width="77.2" height="1.3" fill="url(#h31)"/>
<linearGradient id="h32"><stop offset="0" stop-color="#65ff99"/><stop offset="0.03" stop-color="#74ff8a"/><stop offset="0.06" stop-color="#83ff7b"/><stop offset="0.09" stop-color="#93ff6b"/><stop offset="0.12" stop-color="#a2ff5c"/><stop offset="0.16" stop-color="#b0ff4e"/><stop offset="0.19" stop-color="#bcff42"/><stop offset="0.22" stop-color="#c6ff38"/><stop offset="0.25" stop-color="#ceff30"/><stop offset="0.28" stop-color="#d3ff2b"/><stop offset="0.31" stop-color="#d5ff29"/><stop offset="0.34" stop-color="#d3ff2b"/><stop offset="0.38" stop-color="#cdff31"/><stop offset="0.41" stop-color="#c4ff3a"/><stop offset="0.44" stop-color="#b8ff46"/><stop offset="0.47" stop-color="#a9ff55"/><stop offset="0.5" stop-color="#99ff65"/><stop offset="0.53" stop-color="#89ff75"/><stop offset="0.56" stop-color="#7aff84"/><stop offset="0.59" stop-color="#6dff91"/><stop offset="0.62" stop-color="#62ff9c"/><stop offset="0.66" stop-color="#57ffa7"/><stop offset="0.69" stop-color="#4dffb1"/><stop offset="0.72" stop-color="#45ffb9"/><stop offset="0.75" stop-color="#3effc0"/><stop offset="0.78" stop-color="#36ffc8"/><stop offset="0.81" stop-color="#2affd4"/><stop offset="0.84" stop-color="#16ffe8"/><stop offset="0.88" stop-color="#00fcff"/><stop offset="0.91" stop-color="#00e1ff"/><stop offset="0.94" stop-color="#00c6ff"/><stop offset="0.97" stop-color="#00abff"/><stop offset="1" stop-color="#0091ff"/></linearGradient>
<rect x="394.2" y="229.3" width="77.2" height="1.3" fill="url(#h32)"/>
<linearGradient id="h33"><stop offset="0" stop-color="#56ffa8"/><stop offset="0.03" stop-color="#64ff9a"/><stop offset="0.06" stop-color="#72ff8c"/><stop offset="0.09" stop-color="#81ff7d"/><stop offset="0.12" stop-color="#90ff6e"/><stop offset="0.16" stop-color="#9eff60"/><stop offset="0.19" stop-color="#abff53"/><stop offset="0.22" stop-color="#b5ff49"/><stop offset="0.25" stop-color="#bdff41"/><stop offset="0.28" stop-color="#c3ff3b"/><stop offset="0.31" stop-color="#c4ff3a"/><stop offset="0.34" stop-color="#c3ff3b"/><stop offset="0.38" stop-color="#bdff41"/><stop offset="0.41" stop-color="#b4ff4a"/><stop offset="0.44" stop-color="#a7ff57"/><stop offset="0.47" stop-color="#98ff66"/><stop offset="0.5" stop-color="#89ff75"/><stop offset="0.53" stop-color="#7aff84"/><stop offset="0.56" stop-color="#6dff91"/><stop offset="0.59" stop-color="#61ff9d"/><stop offset="0.62" stop-color="#57ffa7"/><stop offset="0.66" stop-color="#4effb0"/><stop offset="0.69" stop-color="#47ffb7"/><stop offset="0.72" stop-color="#40ffbe"/><stop offset="0.75" stop-color="#39ffc5"/><stop offset="0.78" stop-color="#30ffce"/><stop offset="0.81" stop-color="#21ffdd"/><stop offset="0.84" stop-color="#0bfff3"/><stop offset="0.88" stop-color="#00f0ff"/><stop offset="0.91" stop-color="#00d5ff"/><stop offset="0.94" stop-color="#00baff"/><stop offset="0.97" stop-color="#00a0ff"/><stop offset="1" stop-color="#0086ff"/></linearGradient>
<rect x="394.2" y="230.3" width="77.2" height="1.3" fill="url(#h33)"/>
<linearGradient id="h34"><stop offset="0" stop-color="#4bffb3"/><stop offset="0.03" stop-color="#56ffa8"/><stop offset="0.06" stop-color="#62ff9c"/><stop offset="0.09" stop-color="#70ff8e"/><stop offset="0.12" stop-color="#7fff7f"/><stop offset="0.16" stop-color="#8dff71"/><stop offset="0.19" stop-color="#99ff65"/><stop offset="0.22" stop-color="#a4ff5a"/><stop offset="0.25" stop-color="#acff52"/><stop offset="0.28" stop-color="#b2ff4c"/><stop offset="0.31" stop-color="#b4ff4a"/><stop offset="0.34" stop-color="#b2ff4c"/><stop offset="0.38" stop-color="#acff52"/><stop offset="0.41" stop-color="#a3ff5b"/><stop offset="0.44" stop-color="#96ff68"/><stop offset="0.47" stop-color="#88ff76"/><stop offset="0.5" stop-color="#79ff85"/><stop offset="0.53" stop-color="#6cff92"/><stop offset="0.56" stop-color="#60ff9e"/><stop offset="0.59" stop-color="#57ffa7"/><stop offset="0.62" stop-color="#4effb0"/><stop offset="0.66" stop-color="#47ffb7"/><stop offset="0.69" stop-color="#41ffbd"/><stop offset="0.72" stop-color="#3bffc3"/><stop offset="0.75" stop-color="#35ffc9"/><stop offset="0.78" stop-color="#2affd4"/><stop offset="0.81" stop-color="#17ffe7"/><stop offset="0.84" stop-color="#00fffe"/><stop offset="0.88" stop-color="#00e4ff"/><stop offset="0.91" stop-color="#00c9ff"/><stop offset="0.94" stop-color="#00afff"/><stop offset="0.97" stop-color="#0094ff"/><stop offset="1" stop-color="#007bff"/></linearGradient>
<rect x="394.2" y="231.3" width="77.2" height="1.3" fill="url(#h34)"/>
<linearGradient id="h35"><stop offset="0" stop-color="#42ffbc"/><stop offset="0.03" stop-color="#4affb4"/><stop offset="0.06" stop-color="#54ffaa"/><stop offset="0.09" stop-color="#61ff9d"/><stop offset="0.12" stop-color="#6eff90"/><stop offset="0.16" stop-color="#7bff83"/><stop offset="0.19" stop-color="#88ff76"/><stop offset="0.22" stop-color="#92ff6c"/><stop offset="0.25" stop-color="#9bff63"/><stop offset="0.28" stop-color="#a0ff5e"/><stop offset="0.31" stop-color="#a2ff5c"/><stop offset="0.34" stop-color="#a0ff5e"/><stop offset="0.38" stop-color="#9bff63"/><stop offset="0.41" stop-color="#91ff6d"/><stop offset="0.44" stop-color="#85ff79"/><stop offset="0.47" stop-color="#78ff86"/><stop offset="0.5" stop-color="#6aff94"/><stop offset="0.53" stop-color="#5fff9f"/><stop offset="0.56" stop-color="#55ffa9"/><stop offset="0.59" stop-color="#4dffb1"/><stop offset="0.62" stop-color="#47ffb7"/><stop offset="0.66" stop-color="#41ffbd"/><stop offset="0.69" stop-color="#3cffc2"/><stop offset="0.72" stop-color="#37ffc7"/><stop offset="0.75" stop-color="#2fffcf"/><stop offset="0.78" stop-color="#22ffdc"/><stop offset="0.81" stop-color="#0dfff1"/><stop offset="0.84" stop-color="#00f3ff"/><stop offset="0.88" stop-color="#00d9ff"/><stop offset="0.91" stop-color="#00beff"/><stop offset="0.94" stop-color="#00a3ff"/><stop offset="0.97" stop-color="#0089ff"/><stop offset="1" stop-color="#0070ff"/></linearGradient>
<rect x="394.2" y="232.3" width="77.2" height="1.3" fill="url(#h35)"/>
<linearGradient id="h36"><stop offset="0" stop-color="#3bffc3"/><stop offset="0.03" stop-color="#41ffbd"/><stop offset="0.06" stop-color="#49ffb5"/><stop offset="0.09" stop-color="#53ffab"/><stop offset="0.12" stop-color="#5effa0"/><stop offset="0.16" stop-color="#6bff93"/><stop offset="0.19" stop-color="#76ff88"/><stop offset="0.22" stop-color="#81ff7d"/><stop offset="0.25" stop-color="#89ff75"/><stop offset="0.28" stop-color="#8fff6f"/><stop offset="0.31" stop-color="#91ff6d"/><stop offset="0.34" stop-color="#8fff6f"/><stop offset="0.38" stop-color="#89ff75"/><stop offset="0.41" stop-color="#80ff7e"/><stop offset="0.44" stop-color="#75ff89"/><stop offset="0.47" stop-color="#68ff96"/><stop offset="0.5" stop-color="#5dffa1"/><stop offset="0.53" stop-color="#53ffab"/><stop offset="0.56" stop-color="#4bffb3"/><stop offset="0.59" stop-color="#45ffb9"/><stop offset="0.62" stop-color="#40ffbe"/><stop offset="0.66" stop-color="#3cffc2"/><stop offset="0.69" stop-color="#38ffc6"/><stop offset="0.72" stop-color="#32ffcc"/><stop offset="0.75" stop-color="#29ffd5"/><stop offset="0.78" stop-color="#19ffe5"/><stop offset="0.81" stop-color="#02fffc"/><stop offset="0.84" stop-color="#00e8ff"/><stop offset="0.88" stop-color="#00cdff"/><stop offset="0.91" stop-color="#00b3ff"/><stop offset="0.94" stop-color="#0099ff"/><stop offset="0.97" stop-color="#007fff"/><stop offset="1" stop-color="#0066ff"/></linearGradient>
<rect x="394.2" y="233.3" width="77.2" height="1.3" fill="url(#h36)"/>
<linearGradient id="h37"><stop offset="0" stop-color="#37ffc7"/><stop offset="0.03" stop-color="#3affc4"/><stop offset="0.06" stop-color="#40ffbe"/><stop offset="0.09" stop-color="#47ffb7"/><stop offset="0.12" stop-color="#51ffad"/><stop offset="0.16" stop-color="#5bffa3"/><stop offset="0.19" stop-color="#66ff98"/><stop offset="0.22" stop-color="#70ff8e"/><stop offset="0.25" stop-color="#78ff86"/><stop offset="0.28" stop-color="#7dff81"/><stop offset="0.31" stop-color="#7fff7f"/><stop offset="0.34" stop-color="#7eff80"/><stop offset="0.38" stop-color="#78ff86"/><stop offset="0.41" stop-color="#70ff8e"/><stop offset="0.44" stop-color="#65ff99"/><stop offset="0.47" stop-color="#5affa4"/><stop offset="0.5" stop-color="#51ffad"/><stop offset="0.53" stop-color="#49ffb5"/><stop offset="0.56" stop-color="#43ffbb"/><stop offset="0.59" stop-color="#3fffbf"/><stop offset="0.62" stop-color="#3bffc3"/><stop offset="0.66" stop-color="#38ffc6"/><stop offset="0.69" stop-color="#34ffca"/><stop offset="0.72" stop-color="#2effd0"/><stop offset="0.75" stop-color="#22ffdc"/><stop offset="0.78" stop-color="#0fffef"/><stop offset="0.81" stop-color="#00f6ff"/><stop offset="0.84" stop-color="#00ddff"/><stop offset="0.88" stop-color="#00c2ff"/><stop offset="0.91" stop-color="#00a8ff"/><stop offset="0.94" stop-color="#008eff"/><stop offset="0.97" stop-color="#0075ff"/><stop offset="1" stop-color="#005bff"/></linearGradient>
<rect x="394.2" y="234.3" width="77.2" height="1.3" fill="url(#h37)"/>
<linearGradient id="h38"><stop offset="0" stop-color="#34ffca"/><stop offset="0.03" stop-color="#36ffc8"/><stop offset="0.06" stop-color="#39ffc5"/><stop offset="0.09" stop-color="#3fffbf"/><stop offset="0.12" stop-color="#45ffb9"/><stop offset="0.16" stop-color="#4effb0"/><stop offset="0.19" stop-color="#57ffa7"/><stop offset="0.22" stop-color="#60ff9e"/><stop offset="0.25" stop-color="#67ff97"/><stop offset="0.28" stop-color="#6cff92"/><stop offset="0.31" stop-color="#6eff90"/><stop offset="0.34" stop-color="#6dff91"/><stop offset="0.38" stop-color="#68ff96"/><stop offset="0.41" stop-color="#60ff9e"/><stop offset="0.44" stop-color="#57ffa7"/><stop offset="0.47" stop-color="#4effb0"/><stop offset="0.5" stop-color="#46ffb8"/><stop offset="0.53" stop-color="#41ffbd"/><stop offset="0.56" stop-color="#3dffc1"/><stop offset="0.59" stop-color="#3affc4"/><stop offset="0.62" stop-color="#37ffc7"/><stop offset="0.66" stop-color="#35ffc9"/><stop offset="0.69" stop-color="#30ffce"/><stop offset="0.72" stop-color="#28ffd6"/><stop offset="0.75" stop-color="#1affe4"/><stop offset="0.78" stop-color="#05fff9"/><stop offset="0.81" stop-color="#00ecff"/><stop offset="0.84" stop-color="#00d2ff"/><stop offset="0.88" stop-color="#00b8ff"/><stop offset="0.91" stop-color="#009eff"/><stop offset="0.94" stop-color="#0084ff"/><stop offset="0.97" stop-color="#006bff"/><stop offset="1" stop-color="#0052ff"/></linearGradient>
<rect x="394.2" y="235.3" width="77.2" height="1.3" fill="url(#h38)"/>
<linearGradient id="h39"><stop offset="0" stop-color="#32ffcc"/><stop offset="0.03" stop-color="#33ffcb"/><stop offset="0.06" stop-color="#35ffc9"/><stop offset="0.09" stop-color="#38ffc6"/><stop offset="0.12" stop-color="#3dffc1"/><stop offset="0.16" stop-color="#43ffbb"/><stop offset="0.19" stop-color="#4affb4"/><stop offset="0.22" stop-color="#52ffac"/><stop offset="0.25" stop-color="#58ffa6"/><stop offset="0.28" stop-color="#5dffa1"/><stop offset="0.31" stop-color="#5effa0"/><stop offset="0.34" stop-color="#5dffa1"/><stop offset="0.38" stop-color="#59ffa5"/><stop offset="0.41" stop-color="#52ffac"/><stop offset="0.44" stop-color="#4bffb3"/><stop offset="0.47" stop-color="#44ffba"/><stop offset="0.5" stop-color="#3fffbf"/><stop offset="0.53" stop-color="#3bffc3"/><stop offset="0.56" stop-color="#38ffc6"/><stop offset="0.59" stop-color="#36ffc8"/><stop offset="0.62" stop-color="#34ffca"/><stop offset="0.66" stop-color="#31ffcd"/><stop offset="0.69" stop-color="#2cffd2"/><stop offset="0.72" stop-color="#22ffdc"/><stop offset="0.75" stop-color="#11ffed"/><stop offset="0.78" stop-color="#00faff"/><stop offset="0.81" stop-color="#00e1ff"/><stop offset="0.84" stop-color="#00c7ff"/><stop offset="0.88" stop-color="#00aeff"/><stop offset="0.91" stop-color="#0094ff"/><stop offset="0.94" stop-color="#007bff"/><stop offset="0.97" stop-color="#0061ff"/><stop offset="1" stop-color="#0048ff"/></linearGradient>
<rect x="394.2" y="236.3" width="77.2" height="1.3" fill="url(#h39)"/>
<linearGradient id="h40"><stop offset="0" stop-color="#31ffcd"/><stop offset="0.03" stop-color="#31ffcd"/><stop offset="0.06" stop-color="#32ffcc"/><stop offset="0.09" stop-color="#34ffca"/><stop offset="0.12" stop-color="#37ffc7"/><stop offset="0.16" stop-color="#3bffc3"/><stop offset="0.19" stop-color="#40ffbe"/><stop offset="0.22" stop-color="#46ffb8"/><stop offset="0.25" stop-color="#4bffb3"/><stop offset="0.28" stop-color="#4fffaf"/><stop offset="0.31" stop-color="#50ffae"/><stop offset="0.34" stop-color="#4fffaf"/><stop offset="0.38" stop-color="#4cffb2"/><stop offset="0.41" stop-color="#47ffb7"/><stop offset="0.44" stop-color="#41ffbd"/><stop offset="0.47" stop-color="#3cffc2"/><stop offset="0.5" stop-color="#39ffc5"/><stop offset="0.53" stop-color="#36ffc8"/><stop offset="0.56" stop-color="#35ffc9"/><stop offset="0.59" stop-color="#33ffcb"/><stop offset="0.62" stop-color="#31ffcd"/><stop offset="0.66" stop-color="#2effd0"/><stop offset="0.69" stop-color="#27ffd7"/><stop offset="0.72" stop-color="#1bffe3"/><stop offset="0.75" stop-color="#07fff7"/><stop offset="0.78" stop-color="#00efff"/><stop offset="0.81" stop-color="#00d7ff"/><stop offset="0.84" stop-color="#00bdff"/><stop offset="0.88" stop-color="#00a4ff"/><stop offset="0.91" stop-color="#008aff"/><stop offset="0.94" stop-color="#0071ff"/><stop offset="0.97" stop-color="#0058ff"/><stop offset="1" stop-color="#003fff"/></linearGradient>
<rect x="394.2" y="237.3" width="77.2" height="1.3" fill="url(#h40)"/>
<linearGradient id="h41"><stop offset="0" stop-color="#2fffcf"/><stop offset="0.03" stop-color="#30ffce"/><stop offset="0.06" stop-color="#30ffce"/><stop offset="0.09" stop-color="#31ffcd"/><stop offset="0.12" stop-color="#33ffcb"/><stop offset="0.16" stop-color="#36ffc8"/><stop offset="0.19" stop-color="#39ffc5"/><stop offset="0.22" stop-color="#3dffc1"/><stop offset="0.25" stop-color="#41ffbd"/><stop offset="0.28" stop-color="#44ffba"/><stop offset="0.31" stop-color="#45ffb9"/><stop offset="0.34" stop-color="#44ffba"/><stop offset="0.38" stop-color="#41ffbd"/><stop offset="0.41" stop-color="#3effc0"/><stop offset="0.44" stop-color="#3affc4"/><stop offset="0.47" stop-color="#37ffc7"/><stop offset="0.5" stop-color="#34ffca"/><stop offset="0.53" stop-color="#33ffcb"/><stop offset="0.56" stop-color="#32ffcc"/><stop offset="0.59" stop-color="#31ffcd"/><stop offset="0.62" stop-color="#2fffcf"/><stop offset="0.66" stop-color="#2affd4"/><stop offset="0.69" stop-color="#22ffdc"/><stop offset="0.72" stop-color="#12ffec"/><stop offset="0.75" stop-color="#00fdff"/><stop offset="0.78" stop-color="#00e5ff"/><stop offset="0.81" stop-color="#00cdff"/><stop offset="0.84" stop-color="#00b4ff"/><stop offset="0.88" stop-color="#009aff"/><stop offset="0.91" stop-color="#0081ff"/><stop offset="0.94" stop-color="#0068ff"/><stop offset="0.97" stop-color="#0050ff"/><stop offset="1" stop-color="#0037ff"/></linearGradient>
<rect x="394.2" y="238.3" width="77.2" height="1.3" fill="url(#h41)"/>
<linearGradient id="h42"><stop offset="0" stop-color="#2effd0"/><stop offset="0.03" stop-color="#2fffcf"/><stop offset="0.06" stop-color="#2fffcf"/><stop offset="0.09" stop-color="#30ffce"/><stop offset="0.12" stop-color="#30ffce"/><stop offset="0.16" stop-color="#32ffcc"/><stop offset="0.19" stop-color="#34ffca"/><stop offset="0.22" stop-color="#36ffc8"/><stop offset="0.25" stop-color="#39ffc5"/><stop offset="0.28" stop-color="#3bffc3"/><stop offset="0.31" stop-color="#3cffc2"/><stop offset="0.34" stop-color="#3bffc3"/><stop offset="0.38" stop-color="#3affc4"/><stop offset="0.41" stop-color="#37ffc7"/><stop offset="0.44" stop-color="#35ffc9"/><stop offset="0.47" stop-color="#33ffcb"/><stop offset="0.5" stop-color="#31ffcd"/><stop offset="0.53" stop-color="#30ffce"/><stop offset="0.56" stop-color="#30ffce"/><stop offset="0.59" stop-color="#2effd0"/><stop offset="0.62" stop-color="#2cffd2"/><stop offset="0.66" stop-color="#26ffd8"/><stop offset="0.69" stop-color="#1bffe3"/><stop offset="0.72" stop-color="#0afff4"/><stop offset="0.75" stop-color="#00f3ff"/><stop offset="0.78" stop-color="#00dbff"/><stop offset="0.81" stop-color="#00c3ff"/><stop offset="0.84" stop-color="#00aaff"/><stop offset="0.88" stop-color="#0091ff"/><stop offset="0.91" stop-color="#0079ff"/><stop offset="0.94" stop-color="#0060ff"/><stop offset="0.97" stop-color="#0047ff"/><stop offset="1" stop-color="#002fff"/></linearGradient>
<rect x="394.2" y="239.3" width="77.2" height="1.3" fill="url(#h42)"/>
<linearGradient id="h43"><stop offset="0" stop-color="#2dffd1"/><stop offset="0.03" stop-color="#2effd0"/><stop offset="0.06" stop-color="#2effd0"/><stop offset="0.09" stop-color="#2effd0"/><stop offset="0.12" stop-color="#2fffcf"/><stop offset="0.16" stop-color="#2fffcf"/><stop offset="0.19" stop-color="#31ffcd"/><stop offset="0.22" stop-color="#32ffcc"/><stop offset="0.25" stop-color="#34ffca"/><stop offset="0.28" stop-color="#35ffc9"/><stop offset="0.31" stop-color="#36ffc8"/><stop offset="0.34" stop-color="#35ffc9"/><stop offset="0.38" stop-color="#34ffca"/><stop offset="0.41" stop-color="#33ffcb"/><stop offset="0.44" stop-color="#31ffcd"/><stop offset="0.47" stop-color="#30ffce"/><stop offset="0.5" stop-color="#2fffcf"/><stop offset="0.53" stop-color="#2fffcf"/><stop offset="0.56" stop-color="#2effd0"/><stop offset="0.59" stop-color="#2cffd2"/><stop offset="0.62" stop-color="#29ffd5"/><stop offset="0.66" stop-color="#21ffdd"/><stop offset="0.69" stop-color="#14ffea"/><stop offset="0.72" stop-color="#01fffd"/><stop offset="0.75" stop-color="#00eaff"/><stop offset="0.78" stop-color="#00d2ff"/><stop offset="0.81" stop-color="#00baff"/><stop offset="0.84" stop-color="#00a1ff"/><stop offset="0.88" stop-color="#0089ff"/><stop offset="0.91" stop-color="#0070ff"/><stop offset="0.94" stop-color="#0058ff"/><stop offset="0.97" stop-color="#0040ff"/><stop offset="1" stop-color="#0028ff"/></linearGradient>
<rect x="394.2" y="240.3" width="77.2" height="1.3" fill="url(#h43)"/>
<linearGradient id="h44"><stop offset="0" stop-color="#2dffd1"/><stop offset="0.03" stop-color="#2dffd1"/><stop offset="0.06" stop-color="#2dffd1"/><stop offset="0.09" stop-color="#2dffd1"/><stop offset="0.12" stop-color="#2dffd1"/><stop offset="0.16" stop-color="#2effd0"/><stop offset="0.19" stop-color="#2effd0"/><stop offset="0.22" stop-color="#2fffcf"/><stop offset="0.25" stop-color="#30ffce"/><stop offset="0.28" stop-color="#31ffcd"/><stop offset="0.31" stop-color="#31ffcd"/><stop offset="0.34" stop-color="#31ffcd"/><stop offset="0.38" stop-color="#30ffce"/><stop offset="0.41" stop-color="#30ffce"/><stop offset="0.44" stop-color="#2fffcf"/><stop offset="0.47" stop-color="#2effd0"/><stop offset="0.5" stop-color="#2effd0"/><stop offset="0.53" stop-color="#2dffd1"/><stop offset="0.56" stop-color="#2cffd2"/><stop offset="0.59" stop-color="#2affd4"/><stop offset="0.62" stop-color="#25ffd9"/><stop offset="0.66" stop-color="#1bffe3"/><stop offset="0.69" stop-color="#0cfff2"/><stop offset="0.72" stop-color="#00f7ff"/><stop offset="0.75" stop-color="#00e0ff"/><stop offset="0.78" stop-color="#00c9ff"/><stop offset="0.81" stop-color="#00b1ff"/><stop offset="0.84" stop-color="#0099ff"/><stop offset="0.88" stop-color="#0081ff"/><stop offset="0.91" stop-color="#0069ff"/><stop offset="0.94" stop-color="#0051ff"/><stop offset="0.97" stop-color="#0039ff"/><stop offset="1" stop-color="#0021ff"/></linearGradient>
<rect x="394.2" y="241.3" width="77.2" height="1.3" fill="url(#h44)"/>
<linearGradient id="h45"><stop offset="0" stop-color="#2cffd2"/><stop offset="0.03" stop-color="#2cffd2"/><stop offset="0.06" stop-color="#2cffd2"/><stop offset="0.09" stop-color="#2cffd2"/><stop offset="0.12" stop-color="#2cffd2"/><stop offset="0.16" stop-color="#2cffd2"/><stop offset="0.19" stop-color="#2dffd1"/><stop offset="0.22" stop-color="#2dffd1"/><stop offset="0.25" stop-color="#2effd0"/><stop offset="0.28" stop-color="#2effd0"/><stop offset="0.31" stop-color="#2effd0"/><stop offset="0.34" stop-color="#2effd0"/><stop offset="0.38" stop-color="#2effd0"/><stop offset="0.41" stop-color="#2dffd1"/><stop offset="0.44" stop-color="#2dffd1"/><stop offset="0.47" stop-color="#2dffd1"/><stop offset="0.5" stop-color="#2cffd2"/><stop offset="0.53" stop-color="#2cffd2"/><stop offset="0.56" stop-color="#2affd4"/><stop offset="0.59" stop-color="#27ffd7"/><stop offset="0.62" stop-color="#21ffdd"/><stop offset="0.66" stop-color="#15ffe9"/><stop offset="0.69" stop-color="#03fffb"/><stop offset="0.72" stop-color="#00eeff"/><stop offset="0.75" stop-color="#00d7ff"/><stop offset="0.78" stop-color="#00c0ff"/><stop offset="0.81" stop-color="#00a8ff"/><stop offset="0.84" stop-color="#0091ff"/><stop offset="0.88" stop-color="#0079ff"/><stop offset="0.91" stop-color="#0061ff"/><stop offset="0.94" stop-color="#004aff"/><stop offset="0.97" stop-color="#0032ff"/><stop offset="1" stop-color="#001bff"/></linearGradient>
<rect x="394.2" y="242.3" width="77.2" height="1.3" fill="url(#h45)"/>
<linearGradient id="h46"><stop offset="0" stop-color="#2bffd3"/><stop offset="0.03" stop-color="#2bffd3"/><stop offset="0.06" stop-color="#2bffd3"/><stop offset="0.09" stop-color="#2bffd3"/><stop offset="0.12" stop-color="#2bffd3"/><stop offset="0.16" stop-color="#2bffd3"/><stop offset="0.19" stop-color="#2bffd3"/><stop offset="0.22" stop-color="#2cffd2"/><stop offset="0.25" stop-color="#2cffd2"/><stop offset="0.28" stop-color="#2cffd2"/><stop offset="0.31" stop-color="#2cffd2"/><stop offset="0.34" stop-color="#2cffd2"/><stop offset="0.38" stop-color="#2cffd2"/><stop offset="0.41" stop-color="#2cffd2"/><stop offset="0.44" stop-color="#2cffd2"/><stop offset="0.47" stop-color="#2bffd3"/><stop offset="0.5" stop-color="#2bffd3"/><stop offset="0.53" stop-color="#2affd4"/><stop offset="0.56" stop-color="#28ffd6"/><stop offset="0.59" stop-color="#24ffda"/><stop offset="0.62" stop-color="#1bffe3"/><stop offset="0.66" stop-color="#0dfff1"/><stop offset="0.69" stop-color="#00faff"/><stop offset="0.72" stop-color="#00e5ff"/><stop offset="0.75" stop-color="#00ceff"/><stop offset="0.78" stop-color="#00b7ff"/><stop offset="0.81" stop-color="#00a0ff"/><stop offset="0.84" stop-color="#0089ff"/><stop offset="0.88" stop-color="#0072ff"/><stop offset="0.91" stop-color="#005aff"/><stop offset="0.94" stop-color="#0043ff"/><stop offset="0.97" stop-color="#002cff"/><stop offset="1" stop-color="#0015ff"/></linearGradient>
<rect x="394.2" y="243.3" width="77.2" height="1.3" fill="url(#h46)"/>
<linearGradient id="h47"><stop offset="0" stop-color="#2affd4"/><stop offset="0.03" stop-color="#2affd4"/><stop offset="0.06" stop-color="#2affd4"/><stop offset="0.09" stop-color="#2affd4"/><stop offset="0.12" stop-color="#2affd4"/><stop offset="0.16" stop-color="#2affd4"/><stop offset="0.19" stop-color="#2affd4"/><stop offset="0.22" stop-color="#2bffd3"/><stop offset="0.25" stop-color="#2bffd3"/><stop offset="0.28" stop-color="#2bffd3"/><stop offset="0.31" stop-color="#2bffd3"/><stop offset="0.34" stop-color="#2bffd3"/><stop offset="0.38" stop-color="#2bffd3"/><stop offset="0.41" stop-color="#2bffd3"/><stop offset="0.44" stop-color="#2affd4"/><stop offset="0.47" stop-color="#2affd4"/><stop offset="0.5" stop-color="#2affd4"/><stop offset="0.53" stop-color="#28ffd6"/><stop offset="0.56" stop-color="#26ffd8"/><stop offset="0.59" stop-color="#20ffde"/><stop offset="0.62" stop-color="#15ffe9"/><stop offset="0.66" stop-color="#06fff8"/><stop offset="0.69" stop-color="#00f1ff"/><stop offset="0.72" stop-color="#00dcff"/><stop offset="0.75" stop-color="#00c6ff"/><stop offset="0.78" stop-color="#00afff"/><stop offset="0.81" stop-color="#0098ff"/><stop offset="0.84" stop-color="#0082ff"/><stop offset="0.88" stop-color="#006bff"/><stop offset="0.91" stop-color="#0054ff"/><stop offset="0.94" stop-color="#003dff"/><stop offset="0.97" stop-color="#0026ff"/><stop offset="1" stop-color="#0010ff"/></linearGradient>
<rect x="394.2" y="244.3" width="77.2" height="1.3" fill="url(#h47)"/>
<linearGradient id="h48"><stop offset="0" stop-color="#29ffd5"/><stop offset="0.03" stop-color="#29ffd5"/><stop offset="0.06" stop-color="#29ffd5"/><stop offset="0.09" stop-color="#29ffd5"/><stop offset="0.12" stop-color="#29ffd5"/><stop offset="0.16" stop-color="#29ffd5"/><stop offset="0.19" stop-color="#29ffd5"/><stop offset="0.22" stop-color="#2affd4"/><stop offset="0.25" stop-color="#2affd4"/><stop offset="0.28" stop-color="#2affd4"/><stop offset="0.31" stop-color="#2affd4"/><stop offset="0.34" stop-color="#2affd4"/><stop offset="0.38" stop-color="#2affd4"/><stop offset="0.41" stop-color="#2affd4"/><stop offset="0.44" stop-color="#29ffd5"/><stop offset="0.47" stop-color="#29ffd5"/><stop offset="0.5" stop-color="#28ffd6"/><stop offset="0.53" stop-color="#27ffd7"/><stop offset="0.56" stop-color="#23ffdb"/><stop offset="0.59" stop-color="#1bffe3"/><stop offset="0.62" stop-color="#0fffef"/><stop offset="0.66" stop-color="#00fdff"/><stop offset="0.69" stop-color="#00e9ff"/><stop offset="0.72" stop-color="#00d4ff"/><stop offset="0.75" stop-color="#00beff"/><stop offset="0.78" stop-color="#00a8ff"/><stop offset="0.81" stop-color="#0091ff"/><stop offset="0.84" stop-color="#007bff"/><stop offset="0.88" stop-color="#0064ff"/><stop offset="0.91" stop-color="#004eff"/><stop offset="0.94" stop-color="#0038ff"/><stop offset="0.97" stop-color="#0021ff"/><stop offset="1" stop-color="#000cff"/></linearGradient>
<rect x="394.2" y="245.3" width="77.2" height="1.3" fill="url(#h48)"/>
<linearGradient id="h49"><stop offset="0" stop-color="#29ffd5"/><stop offset="0.03" stop-color="#29ffd5"/><stop offset="0.06" stop-color="#29ffd5"/><stop offset="0.09" stop-color="#29ffd5"/><stop offset="0.12" stop-color="#29ffd5"/><stop offset="0.16" stop-color="#29ffd5"/><stop offset="0.19" stop-color="#29ffd5"/><stop offset="0.22" stop-color="#29ffd5"/><stop offset="0.25" stop-color="#29ffd5"/><stop offset="0.28" stop-color="#29ffd5"/><stop offset="0.31" stop-color="#29ffd5"/><stop offset="0.34" stop-color="#29ffd5"/><stop offset="0.38" stop-color="#29ffd5"/><stop offset="0.41" stop-color="#29ffd5"/><stop offset="0.44" stop-color="#28ffd6"/><stop offset="0.47" stop-color="#28ffd6"/><stop offset="0.5" stop-color="#27ffd7"/><stop offset="0.53" stop-color="#24ffda"/><stop offset="0.56" stop-color="#1fffdf"/><stop offset="0.59" stop-color="#16ffe8"/><stop offset="0.62" stop-color="#08fff6"/><stop offset="0.66" stop-color="#00f5ff"/><stop offset="0.69" stop-color="#00e1ff"/><stop offset="0.72" stop-color="#00ccff"/><stop offset="0.75" stop-color="#00b6ff"/><stop offset="0.78" stop-color="#00a0ff"/><stop offset="0.81" stop-color="#008bff"/><stop offset="0.84" stop-color="#0075ff"/><stop offset="0.88" stop-color="#005fff"/><stop offset="0.91" stop-color="#0049ff"/><stop offset="0.94" stop-color="#0033ff"/><stop offset="0.97" stop-color="#001dff"/><stop offset="1" stop-color="#0008ff"/></linearGradient>
<rect x="394.2" y="246.3" width="77.2" height="1.3" fill="url(#h49)"/>
<linearGradient id="h50"><stop offset="0" stop-color="#28ffd6"/><stop offset="0.03" stop-color="#28ffd6"/><stop offset="0.06" stop-color="#28ffd6"/><stop offset="0.09" stop-color="#28ffd6"/><stop offset="0.12" stop-color="#28ffd6"/><stop offset="0.16" stop-color="#28ffd6"/><stop offset="0.19" stop-color="#28ffd6"/><stop offset="0.22" stop-color="#28ffd6"/><stop offset="0.25" stop-color="#28ffd6"/><stop offset="0.28" stop-color="#28ffd6"/><stop offset="0.31" stop-color="#28ffd6"/><stop offset="0.34" stop-color="#28ffd6"/><stop offset="0.38" stop-color="#28ffd6"/><stop offset="0.41" stop-color="#28ffd6"/><stop offset="0.44" stop-color="#27ffd7"/><stop offset="0.47" stop-color="#27ffd7"/><stop offset="0.5" stop-color="#25ffd9"/><stop offset="0.53" stop-color="#22ffdc"/><stop offset="0.56" stop-color="#1bffe3"/><stop offset="0.59" stop-color="#10ffee"/><stop offset="0.62" stop-color="#01fffd"/><stop offset="0.66" stop-color="#00edff"/><stop offset="0.69" stop-color="#00d9ff"/><stop offset="0.72" stop-color="#00c4ff"/><stop offset="0.75" stop-color="#00afff"/><stop offset="0.78" stop-color="#009aff"/><stop offset="0.81" stop-color="#0084ff"/><stop offset="0.84" stop-color="#006fff"/><stop offset="0.88" stop-color="#0059ff"/><stop offset="0.91" stop-color="#0044ff"/><stop offset="0.94" stop-color="#002eff"/><stop offset="0.97" stop-color="#0019ff"/><stop offset="1" stop-color="#0004ff"/></linearGradient>
<rect x="394.2" y="247.3" width="77.2" height="1.3" fill="url(#h50)"/>
<linearGradient id="h51"><stop offset="0" stop-color="#27ffd7"/><stop offset="0.03" stop-color="#27ffd7"/><stop offset="0.06" stop-color="#27ffd7"/><stop offset="0.09" stop-color="#27ffd7"/><stop offset="0.12" stop-color="#27ffd7"/><stop offset="0.16" stop-color="#27ffd7"/><stop offset="0.19" stop-color="#27ffd7"/><stop offset="0.22" stop-color="#27ffd7"/><stop offset="0.25" stop-color="#27ffd7"/><stop offset="0.28" stop-color="#27ffd7"/><stop offset="0.31" stop-color="#27ffd7"/><stop offset="0.34" stop-color="#27ffd7"/><stop offset="0.38" stop-color="#27ffd7"/><stop offset="0.41" stop-color="#27ffd7"/><stop offset="0.44" stop-color="#26ffd8"/><stop offset="0.47" stop-color="#25ffd9"/><stop offset="0.5" stop-color="#23ffdb"/><stop offset="0.53" stop-color="#1fffdf"/><stop offset="0.56" stop-color="#16ffe8"/><stop offset="0.59" stop-color="#0afff4"/><stop offset="0.62" stop-color="#00f8ff"/><stop offset="0.66" stop-color="#00e6ff"/><stop offset="0.69" stop-color="#00d2ff"/><stop offset="0.72" stop-color="#00bdff"/><stop offset="0.75" stop-color="#00a8ff"/><stop offset="0.78" stop-color="#0093ff"/><stop offset="0.81" stop-color="#007eff"/><stop offset="0.84" stop-color="#0069ff"/><stop offset="0.88" stop-color="#0054ff"/><stop offset="0.91" stop-color="#003fff"/><stop offset="0.94" stop-color="#002aff"/><stop offset="0.97" stop-color="#0015ff"/><stop offset="1" stop-color="#0001ff"/></linearGradient>
<rect x="394.2" y="248.3" width="77.2" height="1.3" fill="url(#h51)"/>
<linearGradient id="h52"><stop offset="0" stop-color="#26ffd8"/><stop offset="0.03" stop-color="#26ffd8"/><stop offset="0.06" stop-color="#26ffd8"/><stop offset="0.09" stop-color="#26ffd8"/><stop offset="0.12" stop-color="#26ffd8"/><stop offset="0.16" stop-color="#26ffd8"/><stop offset="0.19" stop-color="#26ffd8"/><stop offset="0.22" stop-color="#26ffd8"/><stop offset="0.25" stop-color="#26ffd8"/><stop offset="0.28" stop-color="#26ffd8"/><stop offset="0.31" stop-color="#26ffd8"/><stop offset="0.34" stop-color="#26ffd8"/><stop offset="0.38" stop-color="#26ffd8"/><stop offset="0.41" stop-color="#26ffd8"/><stop offset="0.44" stop-color="#25ffd9"/><stop offset="0.47" stop-color="#24ffda"/><stop offset="0.5" stop-color="#21ffdd"/><stop offset="0.53" stop-color="#1bffe3"/><stop offset="0.56" stop-color="#11ffed"/><stop offset="0.59" stop-color="#03fffb"/><stop offset="0.62" stop-color="#00f1ff"/><stop offset="0.66" stop-color="#00deff"/><stop offset="0.69" stop-color="#00caff"/><stop offset="0.72" stop-color="#00b6ff"/><stop offset="0.75" stop-color="#00a2ff"/><stop offset="0.78" stop-color="#008dff"/><stop offset="0.81" stop-color="#0079ff"/><stop offset="0.84" stop-color="#0064ff"/><stop offset="0.88" stop-color="#0050ff"/><stop offset="0.91" stop-color="#003bff"/><stop offset="0.94" stop-color="#0027ff"/><stop offset="0.97" stop-color="#0012ff"/><stop offset="1" stop-color="#0000fe"/></linearGradient>
<rect x="394.2" y="249.3" width="77.2" height="1.3" fill="url(#h52)"/>
<linearGradient id="h53"><stop offset="0" stop-color="#25ffd9"/><stop offset="0.03" stop-color="#25ffd9"/><stop offset="0.06" stop-color="#25ffd9"/><stop offset="0.09" stop-color="#25ffd9"/><stop offset="0.12" stop-color="#25ffd9"/><stop offset="0.16" stop-color="#25ffd9"/><stop offset="0.19" stop-color="#25ffd9"/><stop offset="0.22" stop-color="#25ffd9"/><stop offset="0.25" stop-color="#25ffd9"/><stop offset="0.28" stop-color="#25ffd9"/><stop offset="0.31" stop-color="#25ffd9"/><stop offset="0.34" stop-color="#25ffd9"/><stop offset="0.38" stop-color="#25ffd9"/><stop offset="0.41" stop-color="#25ffd9"/><stop offset="0.44" stop-color="#24ffda"/><stop offset="0.47" stop-color="#22ffdc"/><stop offset="0.5" stop-color="#1effe0"/><stop offset="0.53" stop-color="#16ffe8"/><stop offset="0.56" stop-color="#0bfff3"/><stop offset="0.59" stop-color="#00fbff"/><stop offset="0.62" stop-color="#00eaff"/><stop offset="0.66" stop-color="#00d7ff"/><stop offset="0.69" stop-color="#00c4ff"/><stop offset="0.72" stop-color="#00b0ff"/><stop offset="0.75" stop-color="#009cff"/><stop offset="0.78" stop-color="#0088ff"/><stop offset="0.81" stop-color="#0074ff"/><stop offset="0.84" stop-color="#0060ff"/><stop offset="0.88" stop-color="#004cff"/><stop offset="0.91" stop-color="#0038ff"/><stop offset="0.94" stop-color="#0024ff"/><stop offset="0.97" stop-color="#0010ff"/><stop offset="1" stop-color="#0000fc"/></linearGradient>
<rect x="394.2" y="250.3" width="77.2" height="1.3" fill="url(#h53)"/>
<linearGradient id="h54"><stop offset="0" stop-color="#25ffd9"/><stop offset="0.03" stop-color="#25ffd9"/><stop offset="0.06" stop-color="#25ffd9"/><stop offset="0.09" stop-color="#25ffd9"/><stop offset="0.12" stop-color="#25ffd9"/><stop offset="0.16" stop-color="#25ffd9"/><stop offset="0.19" stop-color="#25ffd9"/><stop offset="0.22" stop-color="#25ffd9"/><stop offset="0.25" stop-color="#25ffd9"/><stop offset="0.28" stop-color="#25ffd9"/><stop offset="0.31" stop-color="#24ffda"/><stop offset="0.34" stop-color="#24ffda"/><stop offset="0.38" stop-color="#24ffda"/><stop offset="0.41" stop-color="#23ffdb"/><stop offset="0.44" stop-color="#22ffdc"/><stop offset="0.47" stop-color="#1fffdf"/><stop offset="0.5" stop-color="#1affe4"/><stop offset="0.53" stop-color="#12ffec"/><stop offset="0.56" stop-color="#05fff9"/><stop offset="0.59" stop-color="#00f5ff"/><stop offset="0.62" stop-color="#00e3ff"/><stop offset="0.66" stop-color="#00d0ff"/><stop offset="0.69" stop-color="#00bdff"/><stop offset="0.72" stop-color="#00aaff"/><stop offset="0.75" stop-color="#0096ff"/><stop offset="0.78" stop-color="#0083ff"/><stop offset="0.81" stop-color="#006fff"/><stop offset="0.84" stop-color="#005cff"/><stop offset="0.88" stop-color="#0048ff"/><stop offset="0.91" stop-color="#0035ff"/><stop offset="0.94" stop-color="#0021ff"/><stop offset="0.97" stop-color="#000eff"/><stop offset="1" stop-color="#0000fa"/></linearGradient>
<rect x="394.2" y="251.3" width="77.2" height="1.3" fill="url(#h54)"/>
<linearGradient id="h55"><stop offset="0" stop-color="#24ffda"/><stop offset="0.03" stop-color="#24ffda"/><stop offset="0.06" stop-color="#24ffda"/><stop offset="0.09" stop-color="#24ffda"/><stop offset="0.12" stop-color="#24ffda"/><stop offset="0.16" stop-color="#24ffda"/><stop offset="0.19" stop-color="#24ffda"/><stop offset="0.22" stop-color="#24ffda"/><stop offset="0.25" stop-color="#24ffda"/><stop offset="0.28" stop-color="#24ffda"/><stop offset="0.31" stop-color="#24ffda"/><stop offset="0.34" stop-color="#23ffdb"/><stop offset="0.38" stop-color="#23ffdb"/><stop offset="0.41" stop-color="#22ffdc"/><stop offset="0.44" stop-color="#20ffde"/><stop offset="0.47" stop-color="#1dffe1"/><stop offset="0.5" stop-color="#16ffe8"/><stop offset="0.53" stop-color="#0cfff2"/><stop offset="0.56" stop-color="#00feff"/><stop offset="0.59" stop-color="#00eeff"/><stop offset="0.62" stop-color="#00dcff"/><stop offset="0.66" stop-color="#00caff"/><stop offset="0.69" stop-color="#00b7ff"/><stop offset="0.72" stop-color="#00a4ff"/><stop offset="0.75" stop-color="#0091ff"/><stop offset="0.78" stop-color="#007eff"/><stop offset="0.81" stop-color="#006bff"/><stop offset="0.84" stop-color="#0058ff"/><stop offset="0.88" stop-color="#0045ff"/><stop offset="0.91" stop-color="#0032ff"/><stop offset="0.94" stop-color="#001fff"/><stop offset="0.97" stop-color="#000cff"/><stop offset="1" stop-color="#0000f9"/></linearGradient>
<rect x="394.2" y="252.3" width="77.2" height="1.3" fill="url(#h55)"/>
<linearGradient id="h56"><stop offset="0" stop-color="#23ffdb"/><stop offset="0.03" stop-color="#23ffdb"/><stop offset="0.06" stop-color="#23ffdb"/><stop offset="0.09" stop-color="#23ffdb"/><stop offset="0.12" stop-color="#23ffdb"/><stop offset="0.16" stop-color="#23ffdb"/><stop offset="0.19" stop-color="#23ffdb"/><stop offset="0.22" stop-color="#23ffdb"/><stop offset="0.25" stop-color="#23ffdb"/><stop offset="0.28" stop-color="#23ffdb"/><stop offset="0.31" stop-color="#23ffdb"/><stop offset="0.34" stop-color="#22ffdc"/><stop offset="0.38" stop-color="#22ffdc"/><stop offset="0.41" stop-color="#21ffdd"/><stop offset="0.44" stop-color="#1effe0"/><stop offset="0.47" stop-color="#1affe4"/><stop offset="0.5" stop-color="#12ffec"/><stop offset="0.53" stop-color="#07fff7"/><stop offset="0.56" stop-color="#00f8ff"/><stop offset="0.59" stop-color="#00e7ff"/><stop offset="0.62" stop-color="#00d6ff"/><stop offset="0.66" stop-color="#00c4ff"/><stop offset="0.69" stop-color="#00b2ff"/><stop offset="0.72" stop-color="#009fff"/><stop offset="0.75" stop-color="#008dff"/><stop offset="0.78" stop-color="#007aff"/><stop offset="0.81" stop-color="#0068ff"/><stop offset="0.84" stop-color="#0055ff"/><stop offset="0.88" stop-color="#0042ff"/><stop offset="0.91" stop-color="#0030ff"/><stop offset="0.94" stop-color="#001dff"/><stop offset="0.97" stop-color="#000bff"/><stop offset="1" stop-color="#0000f9"/></linearGradient>
<rect x="394.2" y="253.3" width="77.2" height="1.3" fill="url(#h56)"/>
<linearGradient id="h57"><stop offset="0" stop-color="#22ffdc"/><stop offset="0.03" stop-color="#22ffdc"/><stop offset="0.06" stop-color="#22ffdc"/><stop offset="0.09" stop-color="#22ffdc"/><stop offset="0.12" stop-color="#22ffdc"/><stop offset="0.16" stop-color="#22ffdc"/><stop offset="0.19" stop-color="#22ffdc"/><stop offset="0.22" stop-color="#22ffdc"/><stop offset="0.25" stop-color="#22ffdc"/><stop offset="0.28" stop-color="#22ffdc"/><stop offset="0.31" stop-color="#22ffdc"/><stop offset="0.34" stop-color="#21ffdd"/><stop offset="0.38" stop-color="#20ffde"/><stop offset="0.41" stop-color="#1fffdf"/><stop offset="0.44" stop-color="#1cffe2"/><stop offset="0.47" stop-color="#16ffe8"/><stop offset="0.5" stop-color="#0dfff1"/><stop offset="0.53" stop-color="#01fffd"/><stop offset="0.56" stop-color="#00f2ff"/><stop offset="0.59" stop-color="#00e1ff"/><stop offset="0.62" stop-color="#00d0ff"/><stop offset="0.66" stop-color="#00bfff"/><stop offset="0.69" stop-color="#00adff"/><stop offset="0.72" stop-color="#009bff"/><stop offset="0.75" stop-color="#0089ff"/><stop offset="0.78" stop-color="#0076ff"/><stop offset="0.81" stop-color="#0064ff"/><stop offset="0.84" stop-color="#0052ff"/><stop offset="0.88" stop-color="#0040ff"/><stop offset="0.91" stop-color="#002eff"/><stop offset="0.94" stop-color="#001cff"/><stop offset="0.97" stop-color="#000aff"/><stop offset="1" stop-color="#0000f8"/></linearGradient>
<rect x="394.2" y="254.3" width="77.2" height="1.3" fill="url(#h57)"/>
<linearGradient id="h58"><stop offset="0" stop-color="#21ffdd"/><stop offset="0.03" stop-color="#21ffdd"/><stop offset="0.06" stop-color="#21ffdd"/><stop offset="0.09" stop-color="#21ffdd"/><stop offset="0.12" stop-color="#21ffdd"/><stop offset="0.16" stop-color="#21ffdd"/><stop offset="0.19" stop-color="#21ffdd"/><stop offset="0.22" stop-color="#21ffdd"/><stop offset="0.25" stop-color="#21ffdd"/><stop offset="0.28" stop-color="#21ffdd"/><stop offset="0.31" stop-color="#21ffdd"/><stop offset="0.34" stop-color="#20ffde"/><stop offset="0.38" stop-color="#1fffdf"/><stop offset="0.41" stop-color="#1dffe1"/><stop offset="0.44" stop-color="#19ffe5"/><stop offset="0.47" stop-color="#12ffec"/><stop offset="0.5" stop-color="#08fff6"/><stop offset="0.53" stop-color="#00faff"/><stop offset="0.56" stop-color="#00ecff"/><stop offset="0.59" stop-color="#00dbff"/><stop offset="0.62" stop-color="#00cbff"/><stop offset="0.66" stop-color="#00b9ff"/><stop offset="0.69" stop-color="#00a8ff"/><stop offset="0.72" stop-color="#0096ff"/><stop offset="0.75" stop-color="#0085ff"/><stop offset="0.78" stop-color="#0073ff"/><stop offset="0.81" stop-color="#0062ff"/><stop offset="0.84" stop-color="#0050ff"/><stop offset="0.88" stop-color="#003eff"/><stop offset="0.91" stop-color="#002dff"/><stop offset="0.94" stop-color="#001bff"/><stop offset="0.97" stop-color="#000aff"/><stop offset="1" stop-color="#0000f8"/></linearGradient>
<rect x="394.2" y="255.3" width="77.2" height="1.3" fill="url(#h58)"/>
<linearGradient id="h59"><stop offset="0" stop-color="#21ffdd"/><stop offset="0.03" stop-color="#21ffdd"/><stop offset="0.06" stop-color="#21ffdd"/><stop offset="0.09" stop-color="#21ffdd"/><stop offset="0.12" stop-color="#21ffdd"/><stop offset="0.16" stop-color="#21ffdd"/><stop offset="0.19" stop-color="#21ffdd"/><stop offset="0.22" stop-color="#20ffde"/><stop offset="0.25" stop-color="#20ffde"/><stop offset="0.28" stop-color="#20ffde"/><stop offset="0.31" stop-color="#20ffde"/><stop offset="0.34" stop-color="#1fffdf"/><stop offset="0.38" stop-color="#1dffe1"/><stop offset="0.41" stop-color="#1affe4"/><stop offset="0.44" stop-color="#15ffe9"/><stop offset="0.47" stop-color="#0efff0"/><stop offset="0.5" stop-color="#03fffb"/><stop offset="0.53" stop-color="#00f5ff"/><stop offset="0.56" stop-color="#00e6ff"/><stop offset="0.59" stop-color="#00d6ff"/><stop offset="0.62" stop-color="#00c5ff"/><stop offset="0.66" stop-color="#00b5ff"/><stop offset="0.69" stop-color="#00a4ff"/><stop offset="0.72" stop-color="#0093ff"/><stop offset="0.75" stop-color="#0081ff"/><stop offset="0.78" stop-color="#0070ff"/><stop offset="0.81" stop-color="#005fff"/><stop offset="0.84" stop-color="#004eff"/><stop offset="0.88" stop-color="#003dff"/><stop offset="0.91" stop-color="#002cff"/><stop offset="0.94" stop-color="#001bff"/><stop offset="0.97" stop-color="#000aff"/><stop offset="1" stop-color="#0000f9"/></linearGradient>
<rect x="394.2" y="256.3" width="77.2" height="1.3" fill="url(#h59)"/>
<linearGradient id="h60"><stop offset="0" stop-color="#20ffde"/><stop offset="0.03" stop-color="#20ffde"/><stop offset="0.06" stop-color="#20ffde"/><stop offset="0.09" stop-color="#20ffde"/><stop offset="0.12" stop-color="#20ffde"/><stop offset="0.16" stop-color="#20ffde"/><stop offset="0.19" stop-color="#20ffde"/><stop offset="0.22" stop-color="#20ffde"/><stop offset="0.25" stop-color="#1fffdf"/><stop offset="0.28" stop-color="#1fffdf"/><stop offset="0.31" stop-color="#1fffdf"/><stop offset="0.34" stop-color="#1dffe1"/><stop offset="0.38" stop-color="#1bffe3"/><stop offset="0.41" stop-color="#18ffe6"/><stop offset="0.44" stop-color="#12ffec"/><stop offset="0.47" stop-color="#09fff5"/><stop offset="0.5" stop-color="#00fdff"/><stop offset="0.53" stop-color="#00efff"/><stop offset="0.56" stop-color="#00e1ff"/><stop offset="0.59" stop-color="#00d1ff"/><stop offset="0.62" stop-color="#00c1ff"/><stop offset="0.66" stop-color="#00b0ff"/><stop offset="0.69" stop-color="#00a0ff"/><stop offset="0.72" stop-color="#008fff"/><stop offset="0.75" stop-color="#007fff"/><stop offset="0.78" stop-color="#006eff"/><stop offset="0.81" stop-color="#005dff"/><stop offset="0.84" stop-color="#004dff"/><stop offset="0.88" stop-color="#003cff"/><stop offset="0.91" stop-color="#002bff"/><stop offset="0.94" stop-color="#001bff"/><stop offset="0.97" stop-color="#000bff"/><stop offset="1" stop-color="#0000fa"/></linearGradient>
<rect x="394.2" y="257.3" width="77.2" height="1.3" fill="url(#h60)"/>
<linearGradient id="h61"><stop offset="0" stop-color="#1fffdf"/><stop offset="0.03" stop-color="#1fffdf"/><stop offset="0.06" stop-color="#1fffdf"/><stop offset="0.09" stop-color="#1fffdf"/><stop offset="0.12" stop-color="#1fffdf"/><stop offset="0.16" stop-color="#1fffdf"/><stop offset="0.19" stop-color="#1fffdf"/><stop offset="0.22" stop-color="#1fffdf"/><stop offset="0.25" stop-color="#1effe0"/><stop offset="0.28" stop-color="#1effe0"/><stop offset="0.31" stop-color="#1dffe1"/><stop offset="0.34" stop-color="#1cffe2"/><stop offset="0.38" stop-color="#19ffe5"/><stop offset="0.41" stop-color="#15ffe9"/><stop offset="0.44" stop-color="#0efff0"/><stop offset="0.47" stop-color="#04fffa"/><stop offset="0.5" stop-color="#00f8ff"/><stop offset="0.53" stop-color="#00eaff"/><stop offset="0.56" stop-color="#00dbff"/><stop offset="0.59" stop-color="#00ccff"/><stop offset="0.62" stop-color="#00bcff"/><stop offset="0.66" stop-color="#00acff"/><stop offset="0.69" stop-color="#009cff"/><stop offset="0.72" stop-color="#008cff"/><stop offset="0.75" stop-color="#007cff"/><stop offset="0.78" stop-color="#006cff"/><stop offset="0.81" stop-color="#005cff"/><stop offset="0.84" stop-color="#004cff"/><stop offset="0.88" stop-color="#003bff"/><stop offset="0.91" stop-color="#002bff"/><stop offset="0.94" stop-color="#001bff"/><stop offset="0.97" stop-color="#000cff"/><stop offset="1" stop-color="#0000fb"/></linearGradient>
<rect x="394.2" y="258.3" width="77.2" height="1.3" fill="url(#h61)"/>
<linearGradient id="h62"><stop offset="0" stop-color="#1effe0"/><stop offset="0.03" stop-color="#1effe0"/><stop offset="0.06" stop-color="#1effe0"/><stop offset="0.09" stop-color="#1effe0"/><stop offset="0.12" stop-color="#1effe0"/><stop offset="0.16" stop-color="#1effe0"/><stop offset="0.19" stop-color="#1effe0"/><stop offset="0.22" stop-color="#1effe0"/><stop offset="0.25" stop-color="#1dffe1"/><stop offset="0.28" stop-color="#1dffe1"/><stop offset="0.31" stop-color="#1cffe2"/><stop offset="0.34" stop-color="#1affe4"/><stop offset="0.38" stop-color="#17ffe7"/><stop offset="0.41" stop-color="#11ffed"/><stop offset="0.44" stop-color="#0afff4"/><stop offset="0.47" stop-color="#00fffe"/><stop offset="0.5" stop-color="#00f3ff"/><stop offset="0.53" stop-color="#00e5ff"/><stop offset="0.56" stop-color="#00d7ff"/><stop offset="0.59" stop-color="#00c8ff"/><stop offset="0.62" stop-color="#00b8ff"/><stop offset="0.66" stop-color="#00a9ff"/><stop offset="0.69" stop-color="#0099ff"/><stop offset="0.72" stop-color="#008aff"/><stop offset="0.75" stop-color="#007aff"/><stop offset="0.78" stop-color="#006aff"/><stop offset="0.81" stop-color="#005bff"/><stop offset="0.84" stop-color="#004bff"/><stop offset="0.88" stop-color="#003bff"/><stop offset="0.91" stop-color="#002cff"/><stop offset="0.94" stop-color="#001cff"/><stop offset="0.97" stop-color="#000dff"/><stop offset="1" stop-color="#0000fd"/></linearGradient>
<rect x="394.2" y="259.3" width="77.2" height="1.3" fill="url(#h62)"/>
<linearGradient id="h63"><stop offset="0" stop-color="#1dffe1"/><stop offset="0.03" stop-color="#1dffe1"/><stop offset="0.06" stop-color="#1dffe1"/><stop offset="0.09" stop-color="#1dffe1"/><stop offset="0.12" stop-color="#1dffe1"/><stop offset="0.16" stop-color="#1dffe1"/><stop offset="0.19" stop-color="#1dffe1"/><stop offset="0.22" stop-color="#1dffe1"/><stop offset="0.25" stop-color="#1cffe2"/><stop offset="0.28" stop-color="#1cffe2"/><stop offset="0.31" stop-color="#1affe4"/><stop offset="0.34" stop-color="#18ffe6"/><stop offset="0.38" stop-color="#14ffea"/><stop offset="0.41" stop-color="#0efff0"/><stop offset="0.44" stop-color="#06fff8"/><stop offset="0.47" stop-color="#00faff"/><stop offset="0.5" stop-color="#00eeff"/><stop offset="0.53" stop-color="#00e1ff"/><stop offset="0.56" stop-color="#00d2ff"/><stop offset="0.59" stop-color="#00c4ff"/><stop offset="0.62" stop-color="#00b5ff"/><stop offset="0.66" stop-color="#00a6ff"/><stop offset="0.69" stop-color="#0097ff"/><stop offset="0.72" stop-color="#0088ff"/><stop offset="0.75" stop-color="#0078ff"/><stop offset="0.78" stop-color="#0069ff"/><stop offset="0.81" stop-color="#005aff"/><stop offset="0.84" stop-color="#004bff"/><stop offset="0.88" stop-color="#003cff"/><stop offset="0.91" stop-color="#002dff"/><stop offset="0.94" stop-color="#001eff"/><stop offset="0.97" stop-color="#000fff"/><stop offset="1" stop-color="#0000ff"/></linearGradient>
<rect x="394.2" y="260.3" width="77.2" height="1.3" fill="url(#h63)"/>
<linearGradient id="h64"><stop offset="0" stop-color="#1dffe1"/><stop offset="0.03" stop-color="#1dffe1"/><stop offset="0.06" stop-color="#1dffe1"/><stop offset="0.09" stop-color="#1cffe2"/><stop offset="0.12" stop-color="#1cffe2"/><stop offset="0.16" stop-color="#1cffe2"/><stop offset="0.19" stop-color="#1cffe2"/><stop offset="0.22" stop-color="#1cffe2"/><stop offset="0.25" stop-color="#1bffe3"/><stop offset="0.28" stop-color="#1affe4"/><stop offset="0.31" stop-color="#18ffe6"/><stop offset="0.34" stop-color="#15ffe9"/><stop offset="0.38" stop-color="#11ffed"/><stop offset="0.41" stop-color="#0afff4"/><stop offset="0.44" stop-color="#01fffd"/><stop offset="0.47" stop-color="#00f6ff"/><stop offset="0.5" stop-color="#00e9ff"/><stop offset="0.53" stop-color="#00dcff"/><stop offset="0.56" stop-color="#00ceff"/><stop offset="0.59" stop-color="#00c0ff"/><stop offset="0.62" stop-color="#00b2ff"/><stop offset="0.66" stop-color="#00a3ff"/><stop offset="0.69" stop-color="#0094ff"/><stop offset="0.72" stop-color="#0086ff"/><stop offset="0.75" stop-color="#0077ff"/><stop offset="0.78" stop-color="#0068ff"/><stop offset="0.81" stop-color="#005aff"/><stop offset="0.84" stop-color="#004bff"/><stop offset="0.88" stop-color="#003cff"/><stop offset="0.91" stop-color="#002eff"/><stop offset="0.94" stop-color="#001fff"/><stop offset="0.97" stop-color="#0011ff"/><stop offset="1" stop-color="#0003ff"/></linearGradient>
<rect x="394.2" y="261.3" width="77.2" height="1.3" fill="url(#h64)"/>
<linearGradient id="h65"><stop offset="0" stop-color="#1cffe2"/><stop offset="0.03" stop-color="#1cffe2"/><stop offset="0.06" stop-color="#1cffe2"/><stop offset="0.09" stop-color="#1cffe2"/><stop offset="0.12" stop-color="#1cffe2"/><stop offset="0.16" stop-color="#1bffe3"/><stop offset="0.19" stop-color="#1bffe3"/><stop offset="0.22" stop-color="#1bffe3"/><stop offset="0.25" stop-color="#1affe4"/><stop offset="0.28" stop-color="#19ffe5"/><stop offset="0.31" stop-color="#16ffe8"/><stop offset="0.34" stop-color="#13ffeb"/><stop offset="0.38" stop-color="#0efff0"/><stop offset="0.41" stop-color="#06fff8"/><stop offset="0.44" stop-color="#00fcff"/><stop offset="0.47" stop-color="#00f1ff"/><stop offset="0.5" stop-color="#00e5ff"/><stop offset="0.53" stop-color="#00d8ff"/><stop offset="0.56" stop-color="#00cbff"/><stop offset="0.59" stop-color="#00bdff"/><stop offset="0.62" stop-color="#00afff"/><stop offset="0.66" stop-color="#00a1ff"/><stop offset="0.69" stop-color="#0093ff"/><stop offset="0.72" stop-color="#0085ff"/><stop offset="0.75" stop-color="#0076ff"/><stop offset="0.78" stop-color="#0068ff"/><stop offset="0.81" stop-color="#005aff"/><stop offset="0.84" stop-color="#004cff"/><stop offset="0.88" stop-color="#003eff"/><stop offset="0.91" stop-color="#002fff"/><stop offset="0.94" stop-color="#0021ff"/><stop offset="0.97" stop-color="#0013ff"/><stop offset="1" stop-color="#0006ff"/></linearGradient>
<rect x="394.2" y="262.3" width="77.2" height="1.3" fill="url(#h65)"/>
<path d="M451.47 197.3L440.33 204.54L436.44 206.87L433.04 208.74L430.13 210.15L427.22 211.32L424.3 212.2L421.88 212.68L419.45 212.92L417.02 212.93L414.11 212.64L411.19 212.1L407.79 211.22L404.4 210.15L400.03 208.59L394.2 206.34" fill="none" stroke="#303030" stroke-width="0.6" stroke-linejoin="round" />
<path d="M471.4 200.45L451.49 213.85L446.07 217.36L441.39 220.23L436.93 222.76L432.53 225.01L428.67 226.67L425.27 227.8L421.88 228.51L418.96 228.75L416.05 228.67L412.65 228.2L409.25 227.43L405.37 226.27L400.4 224.53L394.2 222.14" fill="none" stroke="#303030" stroke-width="0.6" stroke-linejoin="round" />
<path d="M471.4 219.03L444.21 242.71L437.41 248.42L432.07 252.68L426.73 256.55L423.82 258.45L421.39 259.89L417.02 262.1L412.89 263.7" fill="none" stroke="#303030" stroke-width="0.6" stroke-linejoin="round" />
<path d="M471.4 236.4L468.53 239.82L465.76 243.64L463.42 247.46L461.5 251.28L460.22 254.62L459.68 256.53L459.39 257.97L459.21 259.4L459.15 260.83L459.23 262.27L459.47 263.7" fill="none" stroke="#303030" stroke-width="0.6" stroke-linejoin="round" />
<text x="409.2" y="219.8" font-size="10.5" text-anchor="start" font-weight="normal" fill="#1a1a1a" font-family='"Liberation Sans",sans-serif' >20</text>
<text x="413.6" y="237.8" font-size="10.5" text-anchor="start" font-weight="normal" fill="#1a1a1a" font-family='"Liberation Sans",sans-serif' >10</text>
<text x="426.8" y="251.6" font-size="10.5" text-anchor="start" font-weight="normal" fill="#1a1a1a" font-family='"Liberation Sans",sans-serif' >0</text>
<text x="442.8" y="258.4" font-size="10.5" text-anchor="start" font-weight="normal" fill="#1a1a1a" font-family='"Liberation Sans",sans-serif' >-10</text>
<rect x="394.2" y="197.3" width="77.2" height="66.4" fill="none" stroke="#6a6a6a" stroke-width="0.8"/>
<line x1="394.2" y1="263.7" x2="394.2" y2="261.7" stroke="#6a6a6a" stroke-width="0.8" />
<line x1="394.2" y1="197.3" x2="394.2" y2="199.3" stroke="#6a6a6a" stroke-width="0.8" />
<line x1="413.5" y1="263.7" x2="413.5" y2="261.7" stroke="#6a6a6a" stroke-width="0.8" />
<line x1="413.5" y1="197.3" x2="413.5" y2="199.3" stroke="#6a6a6a" stroke-width="0.8" />
<line x1="432.8" y1="263.7" x2="432.8" y2="261.7" stroke="#6a6a6a" stroke-width="0.8" />
<line x1="432.8" y1="197.3" x2="432.8" y2="199.3" stroke="#6a6a6a" stroke-width="0.8" />
<line x1="452.1" y1="263.7" x2="452.1" y2="261.7" stroke="#6a6a6a" stroke-width="0.8" />
<line x1="452.1" y1="197.3" x2="452.1" y2="199.3" stroke="#6a6a6a" stroke-width="0.8" />
<line x1="471.4" y1="263.7" x2="471.4" y2="261.7" stroke="#6a6a6a" stroke-width="0.8" />
<line x1="471.4" y1="197.3" x2="471.4" y2="199.3" stroke="#6a6a6a" stroke-width="0.8" />
<line x1="394.2" y1="263.7" x2="396.2" y2="263.7" stroke="#6a6a6a" stroke-width="0.8" />
<line x1="471.4" y1="263.7" x2="469.4" y2="263.7" stroke="#6a6a6a" stroke-width="0.8" />
<line x1="394.2" y1="247.1" x2="396.2" y2="247.1" stroke="#6a6a6a" stroke-width="0.8" />
<line x1="471.4" y1="247.1" x2="469.4" y2="247.1" stroke="#6a6a6a" stroke-width="0.8" />
<line x1="394.2" y1="230.5" x2="396.2" y2="230.5" stroke="#6a6a6a" stroke-width="0.8" />
<line x1="471.4" y1="230.5" x2="469.4" y2="230.5" stroke="#6a6a6a" stroke-width="0.8" />
<line x1="394.2" y1="213.9" x2="396.2" y2="213.9" stroke="#6a6a6a" stroke-width="0.8" />
<line x1="471.4" y1="213.9" x2="469.4" y2="213.9" stroke="#6a6a6a" stroke-width="0.8" />
<line x1="394.2" y1="197.3" x2="396.2" y2="197.3" stroke="#6a6a6a" stroke-width="0.8" />
<line x1="471.4" y1="197.3" x2="469.4" y2="197.3" stroke="#6a6a6a" stroke-width="0.8" />
<text x="391" y="267.1" font-size="9.6" text-anchor="end" font-weight="normal" fill="#1a1a1a" font-family='"Liberation Sans",sans-serif' >0.1</text>
<text x="391" y="233.9" font-size="9.6" text-anchor="end" font-weight="normal" fill="#1a1a1a" font-family='"Liberation Sans",sans-serif' >10</text>
<text x="391" y="200.7" font-size="9.6" text-anchor="end" font-weight="normal" fill="#1a1a1a" font-family='"Liberation Sans",sans-serif' >1000</text>
<text x="394.2" y="275.2" font-size="9.6" text-anchor="middle" font-weight="normal" fill="#1a1a1a" font-family='"Liberation Sans",sans-serif' >0.01</text>
<text x="432.8" y="275.2" font-size="9.6" text-anchor="middle" font-weight="normal" fill="#1a1a1a" font-family='"Liberation Sans",sans-serif' >1</text>
<text x="471.4" y="275.2" font-size="9.6" text-anchor="middle" font-weight="normal" fill="#1a1a1a" font-family='"Liberation Sans",sans-serif' >100</text>
<text x="440.8" y="281.9" font-size="9.4" text-anchor="start" font-weight="bold" fill="#1a1a1a" font-family='"Liberation Sans",sans-serif' >C/C<tspan font-size="5.4" dy="4.1">SQL</tspan></text>
<g transform="translate(376 219.4) rotate(-90)">
<text x="0" y="0" font-size="9.5" text-anchor="start" font-weight="normal" fill="#1a1a1a" font-family='"Liberation Serif",serif' ><tspan>χ</tspan>/<tspan>γ</tspan></text>
</g>
<line x1="307.3" y1="243.8" x2="394.2" y2="243.8" stroke="#333" stroke-width="1" stroke-dasharray="1 1.5"/>
<line x1="471.4" y1="243.8" x2="487.2" y2="243.8" stroke="#333" stroke-width="1" stroke-dasharray="1 1.5"/>
<clipPath id="cd"><path clip-rule="evenodd" d="M307.3 190.8H487.2V323.1H307.3ZM394.2 197.3H471.4V263.7H394.2Z"/></clipPath>
<clipPath id="cdh"><rect x="394.2" y="197.3" width="77.2" height="66.4"/></clipPath>
<g clip-path="url(#cd)">
<path d="M307.3 298.53L326.41 298.18L341.19 297.54L347.32 297.11L353.09 296.57L358.49 295.91L363.54 295.14L368.23 294.25L372.91 293.16L377.24 291.96L381.57 290.55L385.89 288.89L389.86 287.15L393.83 285.19L397.79 282.99L401.76 280.55L405.72 277.87L409.69 274.97L414.01 271.55L418.34 267.89L422.67 264.02L427.35 259.6L432.04 254.98L442.13 244.48L454.03 231.44L468.45 215.04L487.2 193.25" fill="none" stroke="#3f2f8f" stroke-width="1.1" stroke-linejoin="round" stroke-dasharray="1.2 1.3"/>
<path d="M307.3 279.45L312.35 282.43L317.03 284.84L322.08 287.05L327.13 288.87L332.18 290.34L337.58 291.54L342.99 292.39L348.76 292.93L354.53 293.12L360.3 292.97L366.06 292.47L371.83 291.59L377.24 290.41L382.65 288.84L387.7 287.01L392.74 284.79L397.07 282.57L401.4 280.06L405.72 277.26L410.05 274.17L414.37 270.81L419.06 266.89L423.75 262.71L428.8 257.95L434.2 252.59L439.61 247.02L445.38 240.87L451.87 233.77L467.01 216.66L487.2 193.24" fill="none" stroke="#a5b8d6" stroke-width="1.1" stroke-linejoin="round" />
<path d="M307.3 233.61L314.87 241.88L321.72 249.11L327.85 255.31L333.62 260.84L339.03 265.69L344.07 269.86L348.76 273.38L353.45 276.51L358.13 279.2L362.46 281.27L366.79 282.91L371.11 284.09L375.44 284.8L377.6 284.97L379.76 285.03L381.93 284.96L384.09 284.78L388.42 284.04L392.38 282.96L396.71 281.34L401.04 279.29L405.36 276.83L410.05 273.74L414.74 270.26L419.78 266.13L424.83 261.65L430.24 256.53L436.01 250.76L442.13 244.36L448.98 236.96L456.56 228.55L465.21 218.74L487.2 193.24" fill="none" stroke="#2a86d4" stroke-width="1.3" stroke-linejoin="round" />
</g>
<g clip-path="url(#cdh)">
<path d="M307.3 279.45L312.35 282.43L317.03 284.84L322.08 287.05L327.13 288.87L332.18 290.34L337.58 291.54L342.99 292.39L348.76 292.93L354.53 293.12L360.3 292.97L366.06 292.47L371.83 291.59L377.24 290.41L382.65 288.84L387.7 287.01L392.74 284.79L397.07 282.57L401.4 280.06L405.72 277.26L410.05 274.17L414.37 270.81L419.06 266.89L423.75 262.71L428.8 257.95L434.2 252.59L439.61 247.02L445.38 240.87L451.87 233.77L467.01 216.66L487.2 193.24" fill="none" stroke="#4a7ab8" stroke-width="0.6" stroke-linejoin="round" />
<path d="M307.3 233.61L314.87 241.88L321.72 249.11L327.85 255.31L333.62 260.84L339.03 265.69L344.07 269.86L348.76 273.38L353.45 276.51L358.13 279.2L362.46 281.27L366.79 282.91L371.11 284.09L375.44 284.8L377.6 284.97L379.76 285.03L381.93 284.96L384.09 284.78L388.42 284.04L392.38 282.96L396.71 281.34L401.04 279.29L405.36 276.83L410.05 273.74L414.74 270.26L419.78 266.13L424.83 261.65L430.24 256.53L436.01 250.76L442.13 244.36L448.98 236.96L456.56 228.55L465.21 218.74L487.2 193.24" fill="none" stroke="#1f4f9a" stroke-width="0.8" stroke-linejoin="round" />
</g>
<rect x="307.3" y="190.8" width="179.9" height="132.3" fill="none" stroke="#6a6a6a" stroke-width="1.3"/>
<line x1="307.3" y1="323.1" x2="307.3" y2="320.9" stroke="#6a6a6a" stroke-width="1.3" />
<line x1="307.3" y1="190.8" x2="307.3" y2="193" stroke="#6a6a6a" stroke-width="1.3" />
<text x="307.3" y="334.9" font-size="11" text-anchor="middle" font-weight="normal" fill="#1a1a1a" font-family='"Liberation Sans",sans-serif' >0.01</text>
<line x1="352.28" y1="323.1" x2="352.28" y2="320.9" stroke="#6a6a6a" stroke-width="1.3" />
<line x1="352.28" y1="190.8" x2="352.28" y2="193" stroke="#6a6a6a" stroke-width="1.3" />
<text x="352.28" y="334.9" font-size="11" text-anchor="middle" font-weight="normal" fill="#1a1a1a" font-family='"Liberation Sans",sans-serif' >0.1</text>
<line x1="397.25" y1="323.1" x2="397.25" y2="320.9" stroke="#6a6a6a" stroke-width="1.3" />
<line x1="397.25" y1="190.8" x2="397.25" y2="193" stroke="#6a6a6a" stroke-width="1.3" />
<text x="397.25" y="334.9" font-size="11" text-anchor="middle" font-weight="normal" fill="#1a1a1a" font-family='"Liberation Sans",sans-serif' >1</text>
<line x1="442.23" y1="323.1" x2="442.23" y2="320.9" stroke="#6a6a6a" stroke-width="1.3" />
<line x1="442.23" y1="190.8" x2="442.23" y2="193" stroke="#6a6a6a" stroke-width="1.3" />
<text x="442.23" y="334.9" font-size="11" text-anchor="middle" font-weight="normal" fill="#1a1a1a" font-family='"Liberation Sans",sans-serif' >10</text>
<line x1="487.2" y1="323.1" x2="487.2" y2="320.9" stroke="#6a6a6a" stroke-width="1.3" />
<line x1="487.2" y1="190.8" x2="487.2" y2="193" stroke="#6a6a6a" stroke-width="1.3" />
<text x="487.2" y="334.9" font-size="11" text-anchor="middle" font-weight="normal" fill="#1a1a1a" font-family='"Liberation Sans",sans-serif' >100</text>
<line x1="307.3" y1="297.2" x2="309.5" y2="297.2" stroke="#6a6a6a" stroke-width="1.3" />
<line x1="487.2" y1="297.2" x2="485" y2="297.2" stroke="#6a6a6a" stroke-width="1.3" />
<line x1="307.3" y1="244" x2="309.5" y2="244" stroke="#6a6a6a" stroke-width="1.3" />
<line x1="487.2" y1="244" x2="485" y2="244" stroke="#6a6a6a" stroke-width="1.3" />
<line x1="307.3" y1="190.8" x2="309.5" y2="190.8" stroke="#6a6a6a" stroke-width="1.3" />
<line x1="487.2" y1="190.8" x2="485" y2="190.8" stroke="#6a6a6a" stroke-width="1.3" />
<text x="298.6" y="301.2" font-size="11" text-anchor="end" font-weight="normal" fill="#1a1a1a" font-family='"Liberation Sans",sans-serif' >10</text>
<text x="299" y="294.7" font-size="7.5" text-anchor="start" font-weight="normal" fill="#1a1a1a" font-family='"Liberation Sans",sans-serif' >-1</text>
<text x="298.6" y="248" font-size="11" text-anchor="end" font-weight="normal" fill="#1a1a1a" font-family='"Liberation Sans",sans-serif' >10</text>
<text x="299" y="241.5" font-size="7.5" text-anchor="start" font-weight="normal" fill="#1a1a1a" font-family='"Liberation Sans",sans-serif' >0</text>
<text x="298.6" y="194.8" font-size="11" text-anchor="end" font-weight="normal" fill="#1a1a1a" font-family='"Liberation Sans",sans-serif' >10</text>
<text x="299" y="188.3" font-size="7.5" text-anchor="start" font-weight="normal" fill="#1a1a1a" font-family='"Liberation Sans",sans-serif' >1</text>
<text x="490.6" y="300.6" font-size="11" text-anchor="start" font-weight="normal" fill="#1a1a1a" font-family='"Liberation Sans",sans-serif' >10</text>
<text x="490.6" y="247.4" font-size="11" text-anchor="start" font-weight="normal" fill="#1a1a1a" font-family='"Liberation Sans",sans-serif' >0</text>
<text x="490.6" y="194.2" font-size="11" text-anchor="start" font-weight="normal" fill="#1a1a1a" font-family='"Liberation Sans",sans-serif' >-10</text>
<text x="383.2" y="350.8" font-size="12" text-anchor="start" font-weight="bold" fill="#1a1a1a" font-family='"Liberation Sans",sans-serif' >C/C<tspan font-size="6.7" dy="5.6">SQL</tspan></text>
<text transform="translate(524.4 256) rotate(-90)" font-size="11.2" text-anchor="middle" font-weight="bold" fill="#1a1a1a" font-family='"Liberation Sans",sans-serif'>Quantum squeezing (dB)</text>
<text x="312.4" y="234.9" font-size="11.5" text-anchor="start" font-weight="bold" fill="#2a86d4" font-family='"Liberation Sans",sans-serif' >0.1</text>
<text x="311.4" y="278.3" font-size="11.5" text-anchor="start" font-weight="bold" fill="#4a6fa8" font-family='"Liberation Sans",sans-serif' >0.03</text>
<text x="309.6" y="313.4" font-size="11.5" text-anchor="start" font-weight="bold" fill="#3f2f8f" font-family='"Liberation Sans",sans-serif' ><tspan font-family='"Liberation Serif",serif'>Δ</tspan>/<tspan font-family='"Liberation Serif",serif'>γ</tspan> = 0</text>
<text x="397.4" y="313.4" font-size="12.4" text-anchor="start" font-weight="normal" fill="#1a1a1a" font-family='"Liberation Sans",sans-serif' >optimized g<tspan font-size="9.6" dy="4.4">FB</tspan></text>
<g transform="translate(274.8 290.6) rotate(-90)">
<path d="M4.2 -7.8L0.4 -2.6L4.2 2.6" fill="none" stroke="#222" stroke-width="0.8" stroke-linejoin="miter" stroke-linecap="butt"/>
<text x="4.4" y="0" font-size="10.5" text-anchor="start" font-weight="bold" fill="#222" font-family='"Liberation Serif",serif' textLength="6.8" lengthAdjust="spacingAndGlyphs">X</text>
<text x="12" y="-4.4" font-size="6.5" text-anchor="start" font-weight="bold" fill="#222" font-family='"Liberation Serif",serif' >2</text>
<path d="M16.8 -7.8L20.6 -2.6L16.8 2.6" fill="none" stroke="#222" stroke-width="0.8" stroke-linejoin="miter" stroke-linecap="butt"/>
<text x="22.6" y="0" font-size="10.5" text-anchor="start" font-weight="normal" fill="#222" font-family='"Liberation Serif",serif' >/</text>
<path d="M33.2 -7.8L29.4 -2.6L33.2 2.6" fill="none" stroke="#222" stroke-width="0.8" stroke-linejoin="miter" stroke-linecap="butt"/>
<text x="33.6" y="0" font-size="10.5" text-anchor="start" font-weight="bold" fill="#222" font-family='"Liberation Serif",serif' textLength="7.2" lengthAdjust="spacingAndGlyphs">X</text>
<text x="41.8" y="-4.4" font-size="6.5" text-anchor="start" font-weight="bold" fill="#222" font-family='"Liberation Serif",serif' >2</text>
<path d="M46.4 -7.8L50.4 -2.6L46.4 2.6" fill="none" stroke="#222" stroke-width="0.8" stroke-linejoin="miter" stroke-linecap="butt"/>
<text x="51.4" y="3.6" font-size="7.9" text-anchor="start" font-weight="bold" fill="#444" font-family='"Liberation Serif",serif' textLength="14.2" lengthAdjust="spacingAndGlyphs">zpm</text>
</g>
</svg></div>
</body></html>
